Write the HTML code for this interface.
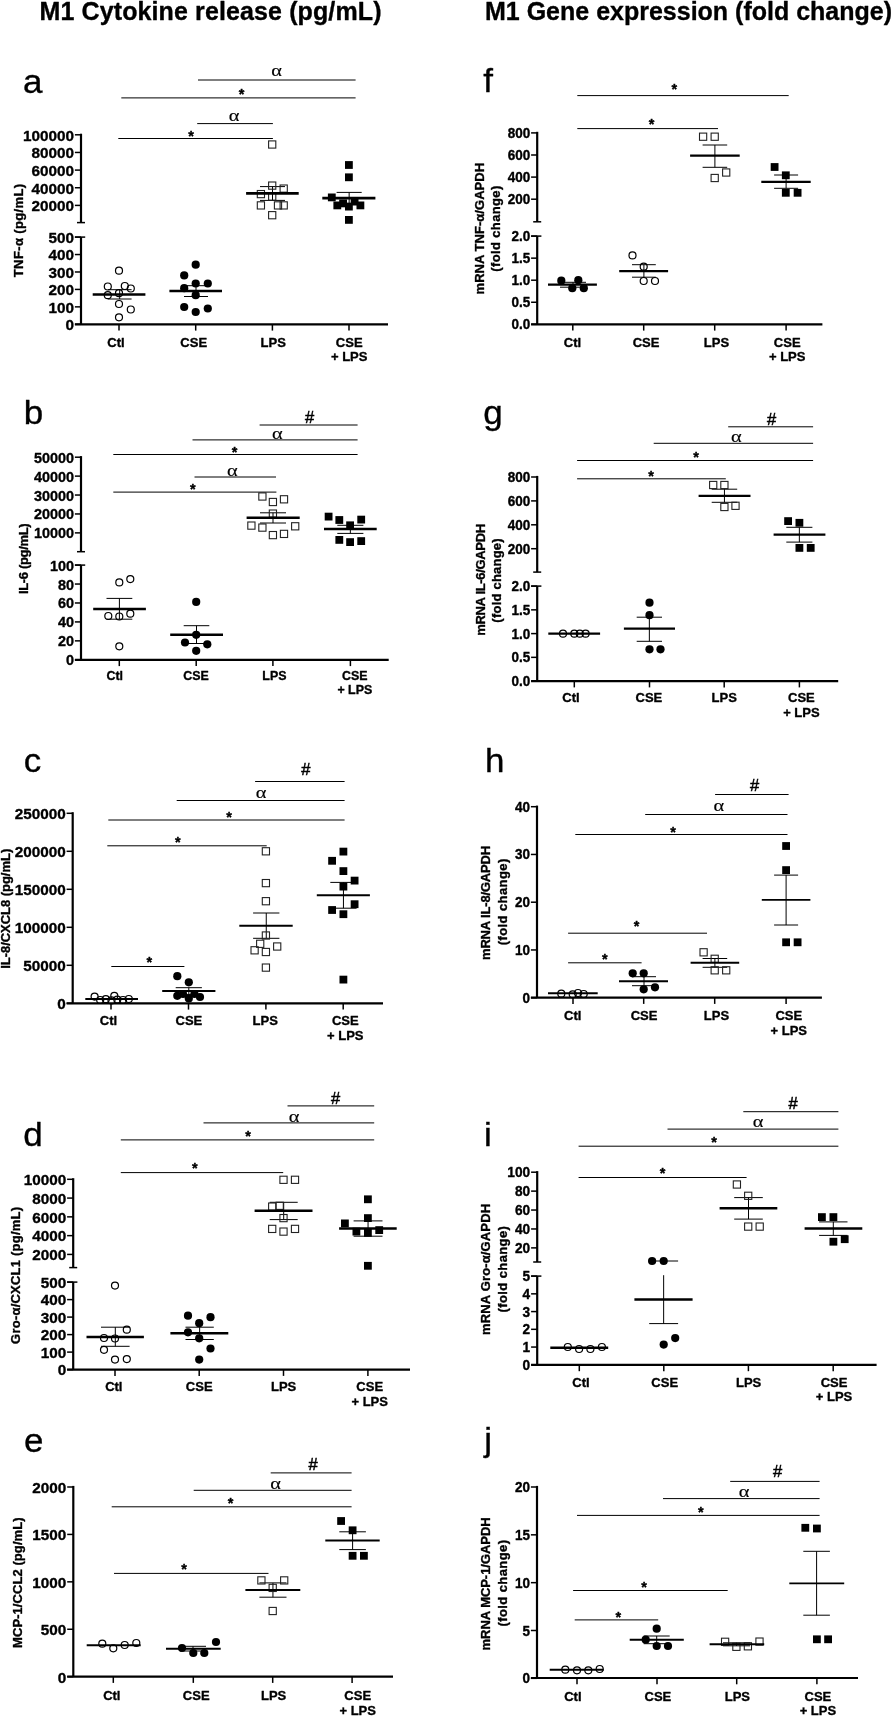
<!DOCTYPE html>
<html><head><meta charset="utf-8"><title>M1 cytokine release and gene expression</title>
<style>
html,body{margin:0;padding:0;background:#fff;}
body{width:894px;height:1716px;overflow:hidden;font-family:"Liberation Sans",sans-serif;}
svg{display:block;will-change:transform}
text{fill:#000}
text.b{stroke:#000;stroke-width:0.35px;stroke-linejoin:round}
</style></head><body>
<svg width="894" height="1716" viewBox="0 0 894 1716">
<rect width="894" height="1716" fill="#fff"/>
<text class="b" x="210.50" y="19.60" font-family="Liberation Sans" font-size="25" font-weight="bold" text-anchor="middle" textLength="342" lengthAdjust="spacing">M1 Cytokine release (pg/mL)</text>
<text class="b" x="688.50" y="19.60" font-family="Liberation Sans" font-size="25" font-weight="bold" text-anchor="middle" textLength="407" lengthAdjust="spacing">M1 Gene expression (fold change)</text>
<text transform="translate(23.00,92.80) scale(1.06,1)" x="0" y="0" font-family="Liberation Sans" font-size="33" stroke="#000" stroke-width="0.35">a</text>
<line x1="81.00" y1="133.70" x2="81.00" y2="222.60" stroke="#000" stroke-width="2.2" stroke-linecap="butt"/>
<line x1="74.90" y1="134.80" x2="81.00" y2="134.80" stroke="#000" stroke-width="1.5" stroke-linecap="butt"/>
<text class="b" transform="translate(74.00,140.63) scale(1,1.0)" x="0" y="0" font-family="Liberation Sans" font-size="15.3" font-weight="bold" text-anchor="end">100000</text>
<line x1="74.90" y1="152.45" x2="81.00" y2="152.45" stroke="#000" stroke-width="1.5" stroke-linecap="butt"/>
<text class="b" transform="translate(74.00,158.28) scale(1,1.0)" x="0" y="0" font-family="Liberation Sans" font-size="15.3" font-weight="bold" text-anchor="end">80000</text>
<line x1="74.90" y1="170.10" x2="81.00" y2="170.10" stroke="#000" stroke-width="1.5" stroke-linecap="butt"/>
<text class="b" transform="translate(74.00,175.93) scale(1,1.0)" x="0" y="0" font-family="Liberation Sans" font-size="15.3" font-weight="bold" text-anchor="end">60000</text>
<line x1="74.90" y1="187.75" x2="81.00" y2="187.75" stroke="#000" stroke-width="1.5" stroke-linecap="butt"/>
<text class="b" transform="translate(74.00,193.58) scale(1,1.0)" x="0" y="0" font-family="Liberation Sans" font-size="15.3" font-weight="bold" text-anchor="end">40000</text>
<line x1="74.90" y1="205.40" x2="81.00" y2="205.40" stroke="#000" stroke-width="1.5" stroke-linecap="butt"/>
<text class="b" transform="translate(74.00,211.23) scale(1,1.0)" x="0" y="0" font-family="Liberation Sans" font-size="15.3" font-weight="bold" text-anchor="end">20000</text>
<line x1="77.00" y1="222.60" x2="85.00" y2="222.60" stroke="#000" stroke-width="1.5" stroke-linecap="butt"/>
<line x1="81.00" y1="237.10" x2="81.00" y2="324.30" stroke="#000" stroke-width="2.2" stroke-linecap="butt"/>
<line x1="74.90" y1="237.10" x2="81.00" y2="237.10" stroke="#000" stroke-width="1.5" stroke-linecap="butt"/>
<text class="b" transform="translate(74.00,242.93) scale(1,1.0)" x="0" y="0" font-family="Liberation Sans" font-size="15.3" font-weight="bold" text-anchor="end">500</text>
<line x1="74.90" y1="254.54" x2="81.00" y2="254.54" stroke="#000" stroke-width="1.5" stroke-linecap="butt"/>
<text class="b" transform="translate(74.00,260.37) scale(1,1.0)" x="0" y="0" font-family="Liberation Sans" font-size="15.3" font-weight="bold" text-anchor="end">400</text>
<line x1="74.90" y1="271.98" x2="81.00" y2="271.98" stroke="#000" stroke-width="1.5" stroke-linecap="butt"/>
<text class="b" transform="translate(74.00,277.81) scale(1,1.0)" x="0" y="0" font-family="Liberation Sans" font-size="15.3" font-weight="bold" text-anchor="end">300</text>
<line x1="74.90" y1="289.42" x2="81.00" y2="289.42" stroke="#000" stroke-width="1.5" stroke-linecap="butt"/>
<text class="b" transform="translate(74.00,295.25) scale(1,1.0)" x="0" y="0" font-family="Liberation Sans" font-size="15.3" font-weight="bold" text-anchor="end">200</text>
<line x1="74.90" y1="306.86" x2="81.00" y2="306.86" stroke="#000" stroke-width="1.5" stroke-linecap="butt"/>
<text class="b" transform="translate(74.00,312.69) scale(1,1.0)" x="0" y="0" font-family="Liberation Sans" font-size="15.3" font-weight="bold" text-anchor="end">100</text>
<line x1="74.90" y1="324.30" x2="81.00" y2="324.30" stroke="#000" stroke-width="1.5" stroke-linecap="butt"/>
<text class="b" transform="translate(74.00,330.13) scale(1,1.0)" x="0" y="0" font-family="Liberation Sans" font-size="15.3" font-weight="bold" text-anchor="end">0</text>
<line x1="74.90" y1="237.10" x2="85.20" y2="237.10" stroke="#000" stroke-width="1.5" stroke-linecap="butt"/>
<line x1="74.90" y1="324.30" x2="388.00" y2="324.30" stroke="#000" stroke-width="2.2" stroke-linecap="butt"/>
<line x1="119.00" y1="324.30" x2="119.00" y2="330.60" stroke="#000" stroke-width="1.5" stroke-linecap="butt"/>
<text class="b" x="116.00" y="346.80" font-family="Liberation Sans" font-size="13" font-weight="bold" text-anchor="middle" >Ctl</text>
<line x1="195.70" y1="324.30" x2="195.70" y2="330.60" stroke="#000" stroke-width="1.5" stroke-linecap="butt"/>
<text class="b" x="193.70" y="346.80" font-family="Liberation Sans" font-size="13" font-weight="bold" text-anchor="middle" >CSE</text>
<line x1="272.40" y1="324.30" x2="272.40" y2="330.60" stroke="#000" stroke-width="1.5" stroke-linecap="butt"/>
<text class="b" x="273.20" y="346.80" font-family="Liberation Sans" font-size="13" font-weight="bold" text-anchor="middle" >LPS</text>
<line x1="349.00" y1="324.30" x2="349.00" y2="330.60" stroke="#000" stroke-width="1.5" stroke-linecap="butt"/>
<text class="b" x="349.20" y="346.80" font-family="Liberation Sans" font-size="13" font-weight="bold" text-anchor="middle" >CSE</text>
<text class="b" x="349.20" y="361.30" font-family="Liberation Sans" font-size="13" font-weight="bold" text-anchor="middle" >+ LPS</text>
<text class="b" transform="translate(22.70,230.50) rotate(-90)" x="0" y="0" font-family="Liberation Sans" font-size="13" font-weight="bold" text-anchor="middle" textLength="93.4" lengthAdjust="spacing">TNF-α  (pg/mL)</text>
<line x1="198.00" y1="80.00" x2="355.60" y2="80.00" stroke="#000" stroke-width="1" stroke-linecap="butt"/>
<text transform="translate(276.60,75.50) scale(1.2,1)" x="0" y="0" font-family="Liberation Serif" font-size="17" text-anchor="middle" stroke="#000" stroke-width="0.15">α</text>
<line x1="121.30" y1="97.90" x2="355.60" y2="97.90" stroke="#000" stroke-width="1" stroke-linecap="butt"/>
<text class="b" x="241.60" y="99.20" font-family="Liberation Sans" font-size="14.5" font-weight="bold" text-anchor="middle" >*</text>
<line x1="197.20" y1="123.60" x2="272.90" y2="123.60" stroke="#000" stroke-width="1" stroke-linecap="butt"/>
<text transform="translate(234.00,120.80) scale(1.2,1)" x="0" y="0" font-family="Liberation Serif" font-size="17" text-anchor="middle" stroke="#000" stroke-width="0.15">α</text>
<line x1="118.30" y1="138.50" x2="272.90" y2="138.50" stroke="#000" stroke-width="1" stroke-linecap="butt"/>
<text class="b" x="191.20" y="141.00" font-family="Liberation Sans" font-size="14.5" font-weight="bold" text-anchor="middle" >*</text>
<line x1="107.80" y1="289.70" x2="131.60" y2="289.70" stroke="#000" stroke-width="1" stroke-linecap="butt"/>
<line x1="107.80" y1="299.00" x2="131.60" y2="299.00" stroke="#000" stroke-width="1" stroke-linecap="butt"/>
<line x1="119.70" y1="289.70" x2="119.70" y2="299.00" stroke="#000" stroke-width="1" stroke-linecap="butt"/>
<circle cx="119.00" cy="270.70" r="3.5" fill="#fff" fill-opacity="0" stroke="#000" stroke-width="1.2"/>
<circle cx="107.80" cy="286.50" r="3.5" fill="#fff" fill-opacity="0" stroke="#000" stroke-width="1.2"/>
<circle cx="124.80" cy="286.00" r="3.5" fill="#fff" fill-opacity="0" stroke="#000" stroke-width="1.2"/>
<circle cx="130.80" cy="288.50" r="3.5" fill="#fff" fill-opacity="0" stroke="#000" stroke-width="1.2"/>
<circle cx="107.80" cy="295.20" r="3.5" fill="#fff" fill-opacity="0" stroke="#000" stroke-width="1.2"/>
<circle cx="119.00" cy="293.20" r="3.5" fill="#fff" fill-opacity="0" stroke="#000" stroke-width="1.2"/>
<circle cx="119.00" cy="304.00" r="3.5" fill="#fff" fill-opacity="0" stroke="#000" stroke-width="1.2"/>
<circle cx="130.80" cy="309.50" r="3.5" fill="#fff" fill-opacity="0" stroke="#000" stroke-width="1.2"/>
<circle cx="119.00" cy="317.30" r="3.5" fill="#fff" fill-opacity="0" stroke="#000" stroke-width="1.2"/>
<line x1="92.70" y1="294.50" x2="145.40" y2="294.50" stroke="#000" stroke-width="2.6" stroke-linecap="butt"/>
<line x1="184.00" y1="285.70" x2="208.00" y2="285.70" stroke="#000" stroke-width="1" stroke-linecap="butt"/>
<line x1="184.00" y1="296.50" x2="208.00" y2="296.50" stroke="#000" stroke-width="1" stroke-linecap="butt"/>
<line x1="196.00" y1="285.70" x2="196.00" y2="296.50" stroke="#000" stroke-width="1" stroke-linecap="butt"/>
<circle cx="195.70" cy="264.70" r="4.1" fill="#000"/>
<circle cx="184.20" cy="275.40" r="4.1" fill="#000"/>
<circle cx="195.70" cy="283.50" r="4.1" fill="#000"/>
<circle cx="207.80" cy="283.50" r="4.1" fill="#000"/>
<circle cx="184.20" cy="288.20" r="4.1" fill="#000"/>
<circle cx="195.70" cy="295.20" r="4.1" fill="#000"/>
<circle cx="184.20" cy="307.00" r="4.1" fill="#000"/>
<circle cx="207.80" cy="308.50" r="4.1" fill="#000"/>
<circle cx="195.70" cy="312.00" r="4.1" fill="#000"/>
<line x1="169.40" y1="291.00" x2="222.00" y2="291.00" stroke="#000" stroke-width="2.6" stroke-linecap="butt"/>
<line x1="260.00" y1="186.60" x2="285.00" y2="186.60" stroke="#000" stroke-width="1" stroke-linecap="butt"/>
<line x1="260.00" y1="200.40" x2="285.00" y2="200.40" stroke="#000" stroke-width="1" stroke-linecap="butt"/>
<line x1="272.50" y1="186.60" x2="272.50" y2="200.40" stroke="#000" stroke-width="1" stroke-linecap="butt"/>
<rect x="268.60" y="140.90" width="7.2" height="7.2" fill="none" stroke="#222" stroke-width="1.1"/>
<rect x="268.60" y="182.00" width="7.2" height="7.2" fill="none" stroke="#222" stroke-width="1.1"/>
<rect x="280.10" y="185.00" width="7.2" height="7.2" fill="none" stroke="#222" stroke-width="1.1"/>
<rect x="257.30" y="190.50" width="7.2" height="7.2" fill="none" stroke="#222" stroke-width="1.1"/>
<rect x="268.60" y="193.00" width="7.2" height="7.2" fill="none" stroke="#222" stroke-width="1.1"/>
<rect x="257.30" y="201.80" width="7.2" height="7.2" fill="none" stroke="#222" stroke-width="1.1"/>
<rect x="274.40" y="201.80" width="7.2" height="7.2" fill="none" stroke="#222" stroke-width="1.1"/>
<rect x="280.10" y="201.80" width="7.2" height="7.2" fill="none" stroke="#222" stroke-width="1.1"/>
<rect x="268.60" y="211.60" width="7.2" height="7.2" fill="none" stroke="#222" stroke-width="1.1"/>
<line x1="246.10" y1="193.40" x2="298.70" y2="193.40" stroke="#000" stroke-width="2.6" stroke-linecap="butt"/>
<line x1="336.60" y1="192.40" x2="361.70" y2="192.40" stroke="#000" stroke-width="1" stroke-linecap="butt"/>
<line x1="336.60" y1="203.40" x2="361.70" y2="203.40" stroke="#000" stroke-width="1" stroke-linecap="butt"/>
<line x1="349.15" y1="192.40" x2="349.15" y2="203.40" stroke="#000" stroke-width="1" stroke-linecap="butt"/>
<rect x="345.00" y="161.10" width="7.8" height="7.8" fill="#000"/>
<rect x="345.00" y="173.40" width="7.8" height="7.8" fill="#000"/>
<rect x="327.90" y="193.50" width="7.8" height="7.8" fill="#000"/>
<rect x="350.70" y="197.70" width="7.8" height="7.8" fill="#000"/>
<rect x="333.40" y="201.50" width="7.8" height="7.8" fill="#000"/>
<rect x="339.20" y="199.50" width="7.8" height="7.8" fill="#000"/>
<rect x="345.00" y="202.70" width="7.8" height="7.8" fill="#000"/>
<rect x="356.50" y="201.50" width="7.8" height="7.8" fill="#000"/>
<rect x="345.00" y="216.00" width="7.8" height="7.8" fill="#000"/>
<line x1="322.30" y1="198.10" x2="375.40" y2="198.10" stroke="#000" stroke-width="2.6" stroke-linecap="butt"/>
<text transform="translate(23.70,423.60) scale(1.06,1)" x="0" y="0" font-family="Liberation Sans" font-size="33" stroke="#000" stroke-width="0.35">b</text>
<line x1="81.00" y1="456.10" x2="81.00" y2="551.70" stroke="#000" stroke-width="2.2" stroke-linecap="butt"/>
<line x1="74.90" y1="457.20" x2="81.00" y2="457.20" stroke="#000" stroke-width="1.5" stroke-linecap="butt"/>
<text class="b" transform="translate(74.00,462.71) scale(1,1.0)" x="0" y="0" font-family="Liberation Sans" font-size="14.4" font-weight="bold" text-anchor="end">50000</text>
<line x1="74.90" y1="476.12" x2="81.00" y2="476.12" stroke="#000" stroke-width="1.5" stroke-linecap="butt"/>
<text class="b" transform="translate(74.00,481.63) scale(1,1.0)" x="0" y="0" font-family="Liberation Sans" font-size="14.4" font-weight="bold" text-anchor="end">40000</text>
<line x1="74.90" y1="495.04" x2="81.00" y2="495.04" stroke="#000" stroke-width="1.5" stroke-linecap="butt"/>
<text class="b" transform="translate(74.00,500.55) scale(1,1.0)" x="0" y="0" font-family="Liberation Sans" font-size="14.4" font-weight="bold" text-anchor="end">30000</text>
<line x1="74.90" y1="513.96" x2="81.00" y2="513.96" stroke="#000" stroke-width="1.5" stroke-linecap="butt"/>
<text class="b" transform="translate(74.00,519.47) scale(1,1.0)" x="0" y="0" font-family="Liberation Sans" font-size="14.4" font-weight="bold" text-anchor="end">20000</text>
<line x1="74.90" y1="532.88" x2="81.00" y2="532.88" stroke="#000" stroke-width="1.5" stroke-linecap="butt"/>
<text class="b" transform="translate(74.00,538.39) scale(1,1.0)" x="0" y="0" font-family="Liberation Sans" font-size="14.4" font-weight="bold" text-anchor="end">10000</text>
<line x1="77.00" y1="551.70" x2="85.00" y2="551.70" stroke="#000" stroke-width="1.5" stroke-linecap="butt"/>
<line x1="81.00" y1="565.10" x2="81.00" y2="659.80" stroke="#000" stroke-width="2.2" stroke-linecap="butt"/>
<line x1="74.90" y1="565.10" x2="81.00" y2="565.10" stroke="#000" stroke-width="1.5" stroke-linecap="butt"/>
<text class="b" transform="translate(74.00,570.61) scale(1,1.0)" x="0" y="0" font-family="Liberation Sans" font-size="14.4" font-weight="bold" text-anchor="end">100</text>
<line x1="74.90" y1="584.04" x2="81.00" y2="584.04" stroke="#000" stroke-width="1.5" stroke-linecap="butt"/>
<text class="b" transform="translate(74.00,589.55) scale(1,1.0)" x="0" y="0" font-family="Liberation Sans" font-size="14.4" font-weight="bold" text-anchor="end">80</text>
<line x1="74.90" y1="602.98" x2="81.00" y2="602.98" stroke="#000" stroke-width="1.5" stroke-linecap="butt"/>
<text class="b" transform="translate(74.00,608.49) scale(1,1.0)" x="0" y="0" font-family="Liberation Sans" font-size="14.4" font-weight="bold" text-anchor="end">60</text>
<line x1="74.90" y1="621.92" x2="81.00" y2="621.92" stroke="#000" stroke-width="1.5" stroke-linecap="butt"/>
<text class="b" transform="translate(74.00,627.43) scale(1,1.0)" x="0" y="0" font-family="Liberation Sans" font-size="14.4" font-weight="bold" text-anchor="end">40</text>
<line x1="74.90" y1="640.86" x2="81.00" y2="640.86" stroke="#000" stroke-width="1.5" stroke-linecap="butt"/>
<text class="b" transform="translate(74.00,646.37) scale(1,1.0)" x="0" y="0" font-family="Liberation Sans" font-size="14.4" font-weight="bold" text-anchor="end">20</text>
<line x1="74.90" y1="659.80" x2="81.00" y2="659.80" stroke="#000" stroke-width="1.5" stroke-linecap="butt"/>
<text class="b" transform="translate(74.00,665.31) scale(1,1.0)" x="0" y="0" font-family="Liberation Sans" font-size="14.4" font-weight="bold" text-anchor="end">0</text>
<line x1="74.90" y1="565.10" x2="85.20" y2="565.10" stroke="#000" stroke-width="1.5" stroke-linecap="butt"/>
<line x1="74.90" y1="659.80" x2="388.70" y2="659.80" stroke="#000" stroke-width="2.2" stroke-linecap="butt"/>
<line x1="119.30" y1="659.80" x2="119.30" y2="666.10" stroke="#000" stroke-width="1.5" stroke-linecap="butt"/>
<text class="b" x="114.80" y="679.50" font-family="Liberation Sans" font-size="12.4" font-weight="bold" text-anchor="middle" >Ctl</text>
<line x1="196.20" y1="659.80" x2="196.20" y2="666.10" stroke="#000" stroke-width="1.5" stroke-linecap="butt"/>
<text class="b" x="196.00" y="679.50" font-family="Liberation Sans" font-size="12.4" font-weight="bold" text-anchor="middle" >CSE</text>
<line x1="272.90" y1="659.80" x2="272.90" y2="666.10" stroke="#000" stroke-width="1.5" stroke-linecap="butt"/>
<text class="b" x="274.40" y="679.50" font-family="Liberation Sans" font-size="12.4" font-weight="bold" text-anchor="middle" >LPS</text>
<line x1="350.40" y1="659.80" x2="350.40" y2="666.10" stroke="#000" stroke-width="1.5" stroke-linecap="butt"/>
<text class="b" x="354.80" y="679.50" font-family="Liberation Sans" font-size="12.4" font-weight="bold" text-anchor="middle" >CSE</text>
<text class="b" x="354.80" y="694.00" font-family="Liberation Sans" font-size="12.4" font-weight="bold" text-anchor="middle" >+ LPS</text>
<text class="b" transform="translate(28.30,558.70) rotate(-90)" x="0" y="0" font-family="Liberation Sans" font-size="13" font-weight="bold" text-anchor="middle" textLength="70.8" lengthAdjust="spacing">IL-6 (pg/mL)</text>
<line x1="259.60" y1="425.00" x2="357.60" y2="425.00" stroke="#000" stroke-width="1" stroke-linecap="butt"/>
<text x="309.60" y="423.00" font-family="Liberation Sans" font-size="16.5" font-weight="normal" text-anchor="middle" stroke="#000" stroke-width="0.5">#</text>
<line x1="192.50" y1="439.90" x2="357.60" y2="439.90" stroke="#000" stroke-width="1" stroke-linecap="butt"/>
<text transform="translate(277.30,438.70) scale(1.2,1)" x="0" y="0" font-family="Liberation Serif" font-size="17" text-anchor="middle" stroke="#000" stroke-width="0.15">α</text>
<line x1="113.30" y1="454.50" x2="357.60" y2="454.50" stroke="#000" stroke-width="1" stroke-linecap="butt"/>
<text class="b" x="234.70" y="456.80" font-family="Liberation Sans" font-size="14.5" font-weight="bold" text-anchor="middle" >*</text>
<line x1="194.50" y1="477.00" x2="276.00" y2="477.00" stroke="#000" stroke-width="1" stroke-linecap="butt"/>
<text transform="translate(232.40,476.40) scale(1.2,1)" x="0" y="0" font-family="Liberation Serif" font-size="17" text-anchor="middle" stroke="#000" stroke-width="0.15">α</text>
<line x1="113.30" y1="492.10" x2="276.40" y2="492.10" stroke="#000" stroke-width="1" stroke-linecap="butt"/>
<text class="b" x="192.80" y="494.40" font-family="Liberation Sans" font-size="14.5" font-weight="bold" text-anchor="middle" >*</text>
<line x1="106.50" y1="598.40" x2="132.30" y2="598.40" stroke="#000" stroke-width="1" stroke-linecap="butt"/>
<line x1="106.50" y1="619.20" x2="132.30" y2="619.20" stroke="#000" stroke-width="1" stroke-linecap="butt"/>
<line x1="119.40" y1="598.40" x2="119.40" y2="619.20" stroke="#000" stroke-width="1" stroke-linecap="butt"/>
<circle cx="119.30" cy="582.40" r="3.5" fill="#fff" fill-opacity="0" stroke="#000" stroke-width="1.2"/>
<circle cx="130.30" cy="579.10" r="3.5" fill="#fff" fill-opacity="0" stroke="#000" stroke-width="1.2"/>
<circle cx="108.30" cy="616.00" r="3.5" fill="#fff" fill-opacity="0" stroke="#000" stroke-width="1.2"/>
<circle cx="119.30" cy="616.50" r="3.5" fill="#fff" fill-opacity="0" stroke="#000" stroke-width="1.2"/>
<circle cx="130.30" cy="613.70" r="3.5" fill="#fff" fill-opacity="0" stroke="#000" stroke-width="1.2"/>
<circle cx="119.30" cy="646.30" r="3.5" fill="#fff" fill-opacity="0" stroke="#000" stroke-width="1.2"/>
<line x1="93.20" y1="609.00" x2="145.90" y2="609.00" stroke="#000" stroke-width="2.5" stroke-linecap="butt"/>
<line x1="183.70" y1="625.70" x2="209.30" y2="625.70" stroke="#000" stroke-width="1" stroke-linecap="butt"/>
<line x1="183.70" y1="643.50" x2="209.30" y2="643.50" stroke="#000" stroke-width="1" stroke-linecap="butt"/>
<line x1="196.50" y1="625.70" x2="196.50" y2="643.50" stroke="#000" stroke-width="1" stroke-linecap="butt"/>
<circle cx="196.20" cy="601.90" r="4.1" fill="#000"/>
<circle cx="196.20" cy="634.80" r="4.1" fill="#000"/>
<circle cx="185.00" cy="642.50" r="4.1" fill="#000"/>
<circle cx="207.30" cy="644.30" r="4.1" fill="#000"/>
<circle cx="196.20" cy="650.80" r="4.1" fill="#000"/>
<line x1="170.20" y1="634.80" x2="223.00" y2="634.80" stroke="#000" stroke-width="2.5" stroke-linecap="butt"/>
<line x1="260.00" y1="512.80" x2="286.00" y2="512.80" stroke="#000" stroke-width="1" stroke-linecap="butt"/>
<line x1="260.00" y1="523.00" x2="286.00" y2="523.00" stroke="#000" stroke-width="1" stroke-linecap="butt"/>
<line x1="273.00" y1="512.80" x2="273.00" y2="523.00" stroke="#000" stroke-width="1" stroke-linecap="butt"/>
<rect x="258.80" y="492.90" width="7.2" height="7.2" fill="none" stroke="#222" stroke-width="1.1"/>
<rect x="269.30" y="498.40" width="7.2" height="7.2" fill="none" stroke="#222" stroke-width="1.1"/>
<rect x="280.40" y="495.70" width="7.2" height="7.2" fill="none" stroke="#222" stroke-width="1.1"/>
<rect x="269.30" y="510.00" width="7.2" height="7.2" fill="none" stroke="#222" stroke-width="1.1"/>
<rect x="247.80" y="522.00" width="7.2" height="7.2" fill="none" stroke="#222" stroke-width="1.1"/>
<rect x="258.80" y="524.00" width="7.2" height="7.2" fill="none" stroke="#222" stroke-width="1.1"/>
<rect x="291.60" y="522.70" width="7.2" height="7.2" fill="none" stroke="#222" stroke-width="1.1"/>
<rect x="269.30" y="531.50" width="7.2" height="7.2" fill="none" stroke="#222" stroke-width="1.1"/>
<rect x="280.40" y="530.30" width="7.2" height="7.2" fill="none" stroke="#222" stroke-width="1.1"/>
<line x1="246.60" y1="517.80" x2="299.70" y2="517.80" stroke="#000" stroke-width="2.5" stroke-linecap="butt"/>
<line x1="337.30" y1="525.30" x2="363.40" y2="525.30" stroke="#000" stroke-width="1" stroke-linecap="butt"/>
<line x1="337.30" y1="533.40" x2="363.40" y2="533.40" stroke="#000" stroke-width="1" stroke-linecap="butt"/>
<line x1="350.35" y1="525.30" x2="350.35" y2="533.40" stroke="#000" stroke-width="1" stroke-linecap="butt"/>
<rect x="324.70" y="512.70" width="7.8" height="7.8" fill="#000"/>
<rect x="335.40" y="516.10" width="7.8" height="7.8" fill="#000"/>
<rect x="346.20" y="521.40" width="7.8" height="7.8" fill="#000"/>
<rect x="357.30" y="515.70" width="7.8" height="7.8" fill="#000"/>
<rect x="335.40" y="536.00" width="7.8" height="7.8" fill="#000"/>
<rect x="346.20" y="538.20" width="7.8" height="7.8" fill="#000"/>
<rect x="357.30" y="537.20" width="7.8" height="7.8" fill="#000"/>
<line x1="324.00" y1="529.10" x2="376.70" y2="529.10" stroke="#000" stroke-width="2.5" stroke-linecap="butt"/>
<text transform="translate(23.70,772.30) scale(1.06,1)" x="0" y="0" font-family="Liberation Sans" font-size="33" stroke="#000" stroke-width="0.35">c</text>
<line x1="72.70" y1="812.20" x2="72.70" y2="1003.30" stroke="#000" stroke-width="2.2" stroke-linecap="butt"/>
<line x1="66.60" y1="813.30" x2="72.70" y2="813.30" stroke="#000" stroke-width="1.5" stroke-linecap="butt"/>
<text class="b" transform="translate(65.70,819.13) scale(1,1.0)" x="0" y="0" font-family="Liberation Sans" font-size="15.3" font-weight="bold" text-anchor="end">250000</text>
<line x1="66.60" y1="851.30" x2="72.70" y2="851.30" stroke="#000" stroke-width="1.5" stroke-linecap="butt"/>
<text class="b" transform="translate(65.70,857.13) scale(1,1.0)" x="0" y="0" font-family="Liberation Sans" font-size="15.3" font-weight="bold" text-anchor="end">200000</text>
<line x1="66.60" y1="889.30" x2="72.70" y2="889.30" stroke="#000" stroke-width="1.5" stroke-linecap="butt"/>
<text class="b" transform="translate(65.70,895.13) scale(1,1.0)" x="0" y="0" font-family="Liberation Sans" font-size="15.3" font-weight="bold" text-anchor="end">150000</text>
<line x1="66.60" y1="927.30" x2="72.70" y2="927.30" stroke="#000" stroke-width="1.5" stroke-linecap="butt"/>
<text class="b" transform="translate(65.70,933.13) scale(1,1.0)" x="0" y="0" font-family="Liberation Sans" font-size="15.3" font-weight="bold" text-anchor="end">100000</text>
<line x1="66.60" y1="965.30" x2="72.70" y2="965.30" stroke="#000" stroke-width="1.5" stroke-linecap="butt"/>
<text class="b" transform="translate(65.70,971.13) scale(1,1.0)" x="0" y="0" font-family="Liberation Sans" font-size="15.3" font-weight="bold" text-anchor="end">50000</text>
<line x1="66.60" y1="1003.30" x2="72.70" y2="1003.30" stroke="#000" stroke-width="1.5" stroke-linecap="butt"/>
<text class="b" transform="translate(65.70,1009.13) scale(1,1.0)" x="0" y="0" font-family="Liberation Sans" font-size="15.3" font-weight="bold" text-anchor="end">0</text>
<line x1="66.60" y1="1003.30" x2="383.00" y2="1003.30" stroke="#000" stroke-width="2.2" stroke-linecap="butt"/>
<line x1="111.00" y1="1003.30" x2="111.00" y2="1009.60" stroke="#000" stroke-width="1.5" stroke-linecap="butt"/>
<text class="b" x="108.50" y="1025.40" font-family="Liberation Sans" font-size="13" font-weight="bold" text-anchor="middle" >Ctl</text>
<line x1="188.50" y1="1003.30" x2="188.50" y2="1009.60" stroke="#000" stroke-width="1.5" stroke-linecap="butt"/>
<text class="b" x="188.90" y="1025.40" font-family="Liberation Sans" font-size="13" font-weight="bold" text-anchor="middle" >CSE</text>
<line x1="265.90" y1="1003.30" x2="265.90" y2="1009.60" stroke="#000" stroke-width="1.5" stroke-linecap="butt"/>
<text class="b" x="265.20" y="1025.40" font-family="Liberation Sans" font-size="13" font-weight="bold" text-anchor="middle" >LPS</text>
<line x1="343.20" y1="1003.30" x2="343.20" y2="1009.60" stroke="#000" stroke-width="1.5" stroke-linecap="butt"/>
<text class="b" x="345.30" y="1025.40" font-family="Liberation Sans" font-size="13" font-weight="bold" text-anchor="middle" >CSE</text>
<text class="b" x="345.30" y="1039.90" font-family="Liberation Sans" font-size="13" font-weight="bold" text-anchor="middle" >+ LPS</text>
<text class="b" transform="translate(9.60,908.80) rotate(-90)" x="0" y="0" font-family="Liberation Sans" font-size="13" font-weight="bold" text-anchor="middle" textLength="120.1" lengthAdjust="spacing">IL-8/CXCL8 (pg/mL)</text>
<line x1="255.10" y1="781.50" x2="344.60" y2="781.50" stroke="#000" stroke-width="1" stroke-linecap="butt"/>
<text x="305.80" y="775.10" font-family="Liberation Sans" font-size="16.5" font-weight="normal" text-anchor="middle" stroke="#000" stroke-width="0.5">#</text>
<line x1="176.70" y1="800.50" x2="344.60" y2="800.50" stroke="#000" stroke-width="1" stroke-linecap="butt"/>
<text transform="translate(261.00,798.00) scale(1.2,1)" x="0" y="0" font-family="Liberation Serif" font-size="17" text-anchor="middle" stroke="#000" stroke-width="0.15">α</text>
<line x1="108.30" y1="820.00" x2="344.60" y2="820.00" stroke="#000" stroke-width="1" stroke-linecap="butt"/>
<text class="b" x="229.00" y="821.50" font-family="Liberation Sans" font-size="14.5" font-weight="bold" text-anchor="middle" >*</text>
<line x1="107.30" y1="845.80" x2="266.70" y2="845.80" stroke="#000" stroke-width="1" stroke-linecap="butt"/>
<text class="b" x="177.80" y="847.30" font-family="Liberation Sans" font-size="14.5" font-weight="bold" text-anchor="middle" >*</text>
<line x1="111.30" y1="966.50" x2="184.40" y2="966.50" stroke="#000" stroke-width="1" stroke-linecap="butt"/>
<text class="b" x="149.30" y="966.50" font-family="Liberation Sans" font-size="14.5" font-weight="bold" text-anchor="middle" >*</text>
<circle cx="94.60" cy="996.60" r="3.5" fill="#fff" fill-opacity="0" stroke="#000" stroke-width="1.2"/>
<circle cx="100.20" cy="1000.00" r="3.5" fill="#fff" fill-opacity="0" stroke="#000" stroke-width="1.2"/>
<circle cx="105.80" cy="999.20" r="3.5" fill="#fff" fill-opacity="0" stroke="#000" stroke-width="1.2"/>
<circle cx="111.50" cy="1000.40" r="3.5" fill="#fff" fill-opacity="0" stroke="#000" stroke-width="1.2"/>
<circle cx="114.30" cy="995.80" r="3.5" fill="#fff" fill-opacity="0" stroke="#000" stroke-width="1.2"/>
<circle cx="117.30" cy="999.60" r="3.5" fill="#fff" fill-opacity="0" stroke="#000" stroke-width="1.2"/>
<circle cx="123.00" cy="1000.00" r="3.5" fill="#fff" fill-opacity="0" stroke="#000" stroke-width="1.2"/>
<circle cx="128.80" cy="999.00" r="3.5" fill="#fff" fill-opacity="0" stroke="#000" stroke-width="1.2"/>
<line x1="85.30" y1="999.00" x2="138.00" y2="999.00" stroke="#000" stroke-width="2.0" stroke-linecap="butt"/>
<line x1="175.70" y1="987.70" x2="201.90" y2="987.70" stroke="#000" stroke-width="1" stroke-linecap="butt"/>
<line x1="175.70" y1="994.40" x2="201.90" y2="994.40" stroke="#000" stroke-width="1" stroke-linecap="butt"/>
<line x1="188.80" y1="987.70" x2="188.80" y2="994.40" stroke="#000" stroke-width="1" stroke-linecap="butt"/>
<circle cx="177.30" cy="976.20" r="4.1" fill="#000"/>
<circle cx="188.80" cy="982.30" r="4.1" fill="#000"/>
<circle cx="177.30" cy="995.80" r="4.1" fill="#000"/>
<circle cx="183.00" cy="994.00" r="4.1" fill="#000"/>
<circle cx="188.80" cy="998.40" r="4.1" fill="#000"/>
<circle cx="194.40" cy="994.00" r="4.1" fill="#000"/>
<circle cx="200.00" cy="997.00" r="4.1" fill="#000"/>
<line x1="162.20" y1="990.90" x2="215.40" y2="990.90" stroke="#000" stroke-width="2.0" stroke-linecap="butt"/>
<line x1="253.10" y1="913.00" x2="279.40" y2="913.00" stroke="#000" stroke-width="1" stroke-linecap="butt"/>
<line x1="253.10" y1="938.30" x2="279.40" y2="938.30" stroke="#000" stroke-width="1" stroke-linecap="butt"/>
<line x1="266.25" y1="913.00" x2="266.25" y2="938.30" stroke="#000" stroke-width="1" stroke-linecap="butt"/>
<rect x="262.30" y="847.70" width="7.2" height="7.2" fill="none" stroke="#222" stroke-width="1.1"/>
<rect x="262.30" y="879.50" width="7.2" height="7.2" fill="none" stroke="#222" stroke-width="1.1"/>
<rect x="262.30" y="897.60" width="7.2" height="7.2" fill="none" stroke="#222" stroke-width="1.1"/>
<rect x="262.30" y="931.90" width="7.2" height="7.2" fill="none" stroke="#222" stroke-width="1.1"/>
<rect x="256.60" y="940.20" width="7.2" height="7.2" fill="none" stroke="#222" stroke-width="1.1"/>
<rect x="251.00" y="946.70" width="7.2" height="7.2" fill="none" stroke="#222" stroke-width="1.1"/>
<rect x="273.60" y="942.90" width="7.2" height="7.2" fill="none" stroke="#222" stroke-width="1.1"/>
<rect x="262.30" y="948.40" width="7.2" height="7.2" fill="none" stroke="#222" stroke-width="1.1"/>
<rect x="262.30" y="964.00" width="7.2" height="7.2" fill="none" stroke="#222" stroke-width="1.1"/>
<line x1="239.30" y1="925.70" x2="292.70" y2="925.70" stroke="#000" stroke-width="2.0" stroke-linecap="butt"/>
<line x1="330.30" y1="882.40" x2="356.60" y2="882.40" stroke="#000" stroke-width="1" stroke-linecap="butt"/>
<line x1="330.30" y1="908.20" x2="356.60" y2="908.20" stroke="#000" stroke-width="1" stroke-linecap="butt"/>
<line x1="343.45" y1="882.40" x2="343.45" y2="908.20" stroke="#000" stroke-width="1" stroke-linecap="butt"/>
<rect x="339.50" y="847.70" width="7.8" height="7.8" fill="#000"/>
<rect x="328.20" y="856.90" width="7.8" height="7.8" fill="#000"/>
<rect x="339.50" y="867.20" width="7.8" height="7.8" fill="#000"/>
<rect x="350.70" y="876.70" width="7.8" height="7.8" fill="#000"/>
<rect x="339.50" y="882.70" width="7.8" height="7.8" fill="#000"/>
<rect x="350.70" y="900.30" width="7.8" height="7.8" fill="#000"/>
<rect x="328.20" y="906.10" width="7.8" height="7.8" fill="#000"/>
<rect x="339.50" y="910.30" width="7.8" height="7.8" fill="#000"/>
<rect x="339.50" y="975.70" width="7.8" height="7.8" fill="#000"/>
<line x1="316.80" y1="895.20" x2="369.90" y2="895.20" stroke="#000" stroke-width="2.0" stroke-linecap="butt"/>
<text transform="translate(23.30,1146.30) scale(1.06,1)" x="0" y="0" font-family="Liberation Sans" font-size="33" stroke="#000" stroke-width="0.35">d</text>
<line x1="73.20" y1="1178.20" x2="73.20" y2="1267.60" stroke="#000" stroke-width="2.2" stroke-linecap="butt"/>
<line x1="67.10" y1="1179.30" x2="73.20" y2="1179.30" stroke="#000" stroke-width="1.5" stroke-linecap="butt"/>
<text class="b" transform="translate(66.20,1185.13) scale(1,1.0)" x="0" y="0" font-family="Liberation Sans" font-size="15.3" font-weight="bold" text-anchor="end">10000</text>
<line x1="67.10" y1="1198.08" x2="73.20" y2="1198.08" stroke="#000" stroke-width="1.5" stroke-linecap="butt"/>
<text class="b" transform="translate(66.20,1203.91) scale(1,1.0)" x="0" y="0" font-family="Liberation Sans" font-size="15.3" font-weight="bold" text-anchor="end">8000</text>
<line x1="67.10" y1="1216.86" x2="73.20" y2="1216.86" stroke="#000" stroke-width="1.5" stroke-linecap="butt"/>
<text class="b" transform="translate(66.20,1222.69) scale(1,1.0)" x="0" y="0" font-family="Liberation Sans" font-size="15.3" font-weight="bold" text-anchor="end">6000</text>
<line x1="67.10" y1="1235.64" x2="73.20" y2="1235.64" stroke="#000" stroke-width="1.5" stroke-linecap="butt"/>
<text class="b" transform="translate(66.20,1241.47) scale(1,1.0)" x="0" y="0" font-family="Liberation Sans" font-size="15.3" font-weight="bold" text-anchor="end">4000</text>
<line x1="67.10" y1="1254.42" x2="73.20" y2="1254.42" stroke="#000" stroke-width="1.5" stroke-linecap="butt"/>
<text class="b" transform="translate(66.20,1260.25) scale(1,1.0)" x="0" y="0" font-family="Liberation Sans" font-size="15.3" font-weight="bold" text-anchor="end">2000</text>
<line x1="69.20" y1="1267.60" x2="77.20" y2="1267.60" stroke="#000" stroke-width="1.5" stroke-linecap="butt"/>
<line x1="73.20" y1="1282.10" x2="73.20" y2="1369.60" stroke="#000" stroke-width="2.2" stroke-linecap="butt"/>
<line x1="67.10" y1="1282.10" x2="73.20" y2="1282.10" stroke="#000" stroke-width="1.5" stroke-linecap="butt"/>
<text class="b" transform="translate(66.20,1287.93) scale(1,1.0)" x="0" y="0" font-family="Liberation Sans" font-size="15.3" font-weight="bold" text-anchor="end">500</text>
<line x1="67.10" y1="1299.60" x2="73.20" y2="1299.60" stroke="#000" stroke-width="1.5" stroke-linecap="butt"/>
<text class="b" transform="translate(66.20,1305.43) scale(1,1.0)" x="0" y="0" font-family="Liberation Sans" font-size="15.3" font-weight="bold" text-anchor="end">400</text>
<line x1="67.10" y1="1317.10" x2="73.20" y2="1317.10" stroke="#000" stroke-width="1.5" stroke-linecap="butt"/>
<text class="b" transform="translate(66.20,1322.93) scale(1,1.0)" x="0" y="0" font-family="Liberation Sans" font-size="15.3" font-weight="bold" text-anchor="end">300</text>
<line x1="67.10" y1="1334.60" x2="73.20" y2="1334.60" stroke="#000" stroke-width="1.5" stroke-linecap="butt"/>
<text class="b" transform="translate(66.20,1340.43) scale(1,1.0)" x="0" y="0" font-family="Liberation Sans" font-size="15.3" font-weight="bold" text-anchor="end">200</text>
<line x1="67.10" y1="1352.10" x2="73.20" y2="1352.10" stroke="#000" stroke-width="1.5" stroke-linecap="butt"/>
<text class="b" transform="translate(66.20,1357.93) scale(1,1.0)" x="0" y="0" font-family="Liberation Sans" font-size="15.3" font-weight="bold" text-anchor="end">100</text>
<line x1="67.10" y1="1369.60" x2="73.20" y2="1369.60" stroke="#000" stroke-width="1.5" stroke-linecap="butt"/>
<text class="b" transform="translate(66.20,1375.43) scale(1,1.0)" x="0" y="0" font-family="Liberation Sans" font-size="15.3" font-weight="bold" text-anchor="end">0</text>
<line x1="67.10" y1="1282.10" x2="77.40" y2="1282.10" stroke="#000" stroke-width="1.5" stroke-linecap="butt"/>
<line x1="67.10" y1="1369.60" x2="410.00" y2="1369.60" stroke="#000" stroke-width="2.2" stroke-linecap="butt"/>
<line x1="115.00" y1="1369.60" x2="115.00" y2="1375.90" stroke="#000" stroke-width="1.5" stroke-linecap="butt"/>
<text class="b" x="113.80" y="1391.10" font-family="Liberation Sans" font-size="13" font-weight="bold" text-anchor="middle" >Ctl</text>
<line x1="199.20" y1="1369.60" x2="199.20" y2="1375.90" stroke="#000" stroke-width="1.5" stroke-linecap="butt"/>
<text class="b" x="199.20" y="1391.10" font-family="Liberation Sans" font-size="13" font-weight="bold" text-anchor="middle" >CSE</text>
<line x1="283.50" y1="1369.60" x2="283.50" y2="1375.90" stroke="#000" stroke-width="1.5" stroke-linecap="butt"/>
<text class="b" x="283.60" y="1391.10" font-family="Liberation Sans" font-size="13" font-weight="bold" text-anchor="middle" >LPS</text>
<line x1="367.90" y1="1369.60" x2="367.90" y2="1375.90" stroke="#000" stroke-width="1.5" stroke-linecap="butt"/>
<text class="b" x="369.70" y="1391.10" font-family="Liberation Sans" font-size="13" font-weight="bold" text-anchor="middle" >CSE</text>
<text class="b" x="369.70" y="1405.60" font-family="Liberation Sans" font-size="13" font-weight="bold" text-anchor="middle" >+ LPS</text>
<text class="b" transform="translate(20.10,1275.40) rotate(-90)" x="0" y="0" font-family="Liberation Sans" font-size="13" font-weight="bold" text-anchor="middle" textLength="137.0" lengthAdjust="spacing">Gro-α/CXCL1 (pg/mL)</text>
<line x1="287.50" y1="1105.90" x2="374.20" y2="1105.90" stroke="#000" stroke-width="1" stroke-linecap="butt"/>
<text x="335.50" y="1103.50" font-family="Liberation Sans" font-size="16.5" font-weight="normal" text-anchor="middle" stroke="#000" stroke-width="0.5">#</text>
<line x1="203.50" y1="1122.90" x2="374.20" y2="1122.90" stroke="#000" stroke-width="1" stroke-linecap="butt"/>
<text transform="translate(294.10,1121.70) scale(1.2,1)" x="0" y="0" font-family="Liberation Serif" font-size="17" text-anchor="middle" stroke="#000" stroke-width="0.15">α</text>
<line x1="120.80" y1="1139.90" x2="374.20" y2="1139.90" stroke="#000" stroke-width="1" stroke-linecap="butt"/>
<text class="b" x="248.10" y="1141.40" font-family="Liberation Sans" font-size="14.5" font-weight="bold" text-anchor="middle" >*</text>
<line x1="120.80" y1="1172.60" x2="283.20" y2="1172.60" stroke="#000" stroke-width="1" stroke-linecap="butt"/>
<text class="b" x="194.90" y="1173.20" font-family="Liberation Sans" font-size="14.5" font-weight="bold" text-anchor="middle" >*</text>
<line x1="101.00" y1="1327.20" x2="129.60" y2="1327.20" stroke="#000" stroke-width="1" stroke-linecap="butt"/>
<line x1="101.00" y1="1346.30" x2="129.60" y2="1346.30" stroke="#000" stroke-width="1" stroke-linecap="butt"/>
<line x1="115.30" y1="1327.20" x2="115.30" y2="1346.30" stroke="#000" stroke-width="1" stroke-linecap="butt"/>
<circle cx="115.00" cy="1285.60" r="3.5" fill="#fff" fill-opacity="0" stroke="#000" stroke-width="1.2"/>
<circle cx="126.80" cy="1329.70" r="3.5" fill="#fff" fill-opacity="0" stroke="#000" stroke-width="1.2"/>
<circle cx="104.00" cy="1338.00" r="3.5" fill="#fff" fill-opacity="0" stroke="#000" stroke-width="1.2"/>
<circle cx="115.00" cy="1338.50" r="3.5" fill="#fff" fill-opacity="0" stroke="#000" stroke-width="1.2"/>
<circle cx="104.00" cy="1349.80" r="3.5" fill="#fff" fill-opacity="0" stroke="#000" stroke-width="1.2"/>
<circle cx="115.00" cy="1359.60" r="3.5" fill="#fff" fill-opacity="0" stroke="#000" stroke-width="1.2"/>
<circle cx="126.80" cy="1359.10" r="3.5" fill="#fff" fill-opacity="0" stroke="#000" stroke-width="1.2"/>
<line x1="86.50" y1="1337.00" x2="143.90" y2="1337.00" stroke="#000" stroke-width="2.5" stroke-linecap="butt"/>
<line x1="185.50" y1="1327.20" x2="213.80" y2="1327.20" stroke="#000" stroke-width="1" stroke-linecap="butt"/>
<line x1="185.50" y1="1339.50" x2="213.80" y2="1339.50" stroke="#000" stroke-width="1" stroke-linecap="butt"/>
<line x1="199.65" y1="1327.20" x2="199.65" y2="1339.50" stroke="#000" stroke-width="1" stroke-linecap="butt"/>
<circle cx="188.00" cy="1315.70" r="4.1" fill="#000"/>
<circle cx="210.50" cy="1317.20" r="4.1" fill="#000"/>
<circle cx="199.20" cy="1323.20" r="4.1" fill="#000"/>
<circle cx="188.00" cy="1332.30" r="4.1" fill="#000"/>
<circle cx="199.20" cy="1338.30" r="4.1" fill="#000"/>
<circle cx="210.50" cy="1348.50" r="4.1" fill="#000"/>
<circle cx="199.20" cy="1359.60" r="4.1" fill="#000"/>
<line x1="170.40" y1="1333.30" x2="228.30" y2="1333.30" stroke="#000" stroke-width="2.5" stroke-linecap="butt"/>
<line x1="269.70" y1="1202.30" x2="297.70" y2="1202.30" stroke="#000" stroke-width="1" stroke-linecap="butt"/>
<line x1="269.70" y1="1219.60" x2="297.70" y2="1219.60" stroke="#000" stroke-width="1" stroke-linecap="butt"/>
<line x1="283.70" y1="1202.30" x2="283.70" y2="1219.60" stroke="#000" stroke-width="1" stroke-linecap="butt"/>
<rect x="279.90" y="1176.20" width="7.2" height="7.2" fill="none" stroke="#222" stroke-width="1.1"/>
<rect x="291.40" y="1176.20" width="7.2" height="7.2" fill="none" stroke="#222" stroke-width="1.1"/>
<rect x="268.60" y="1203.00" width="7.2" height="7.2" fill="none" stroke="#222" stroke-width="1.1"/>
<rect x="276.10" y="1202.20" width="7.2" height="7.2" fill="none" stroke="#222" stroke-width="1.1"/>
<rect x="279.90" y="1214.50" width="7.2" height="7.2" fill="none" stroke="#222" stroke-width="1.1"/>
<rect x="268.60" y="1225.30" width="7.2" height="7.2" fill="none" stroke="#222" stroke-width="1.1"/>
<rect x="279.90" y="1228.00" width="7.2" height="7.2" fill="none" stroke="#222" stroke-width="1.1"/>
<rect x="291.40" y="1225.30" width="7.2" height="7.2" fill="none" stroke="#222" stroke-width="1.1"/>
<line x1="254.60" y1="1210.80" x2="312.50" y2="1210.80" stroke="#000" stroke-width="2.5" stroke-linecap="butt"/>
<line x1="353.60" y1="1220.90" x2="382.50" y2="1220.90" stroke="#000" stroke-width="1" stroke-linecap="butt"/>
<line x1="353.60" y1="1236.20" x2="382.50" y2="1236.20" stroke="#000" stroke-width="1" stroke-linecap="butt"/>
<line x1="368.05" y1="1220.90" x2="368.05" y2="1236.20" stroke="#000" stroke-width="1" stroke-linecap="butt"/>
<rect x="364.00" y="1195.40" width="7.8" height="7.8" fill="#000"/>
<rect x="364.00" y="1214.20" width="7.8" height="7.8" fill="#000"/>
<rect x="341.00" y="1219.50" width="7.8" height="7.8" fill="#000"/>
<rect x="352.50" y="1227.70" width="7.8" height="7.8" fill="#000"/>
<rect x="364.00" y="1229.00" width="7.8" height="7.8" fill="#000"/>
<rect x="375.30" y="1226.20" width="7.8" height="7.8" fill="#000"/>
<rect x="364.00" y="1261.90" width="7.8" height="7.8" fill="#000"/>
<line x1="339.10" y1="1228.40" x2="396.70" y2="1228.40" stroke="#000" stroke-width="2.5" stroke-linecap="butt"/>
<text transform="translate(24.00,1452.00) scale(1.06,1)" x="0" y="0" font-family="Liberation Sans" font-size="33" stroke="#000" stroke-width="0.35">e</text>
<line x1="73.30" y1="1485.90" x2="73.30" y2="1676.70" stroke="#000" stroke-width="2.2" stroke-linecap="butt"/>
<line x1="67.20" y1="1487.00" x2="73.30" y2="1487.00" stroke="#000" stroke-width="1.5" stroke-linecap="butt"/>
<text class="b" transform="translate(66.30,1492.83) scale(1,1.0)" x="0" y="0" font-family="Liberation Sans" font-size="15.3" font-weight="bold" text-anchor="end">2000</text>
<line x1="67.20" y1="1534.42" x2="73.30" y2="1534.42" stroke="#000" stroke-width="1.5" stroke-linecap="butt"/>
<text class="b" transform="translate(66.30,1540.25) scale(1,1.0)" x="0" y="0" font-family="Liberation Sans" font-size="15.3" font-weight="bold" text-anchor="end">1500</text>
<line x1="67.20" y1="1581.84" x2="73.30" y2="1581.84" stroke="#000" stroke-width="1.5" stroke-linecap="butt"/>
<text class="b" transform="translate(66.30,1587.67) scale(1,1.0)" x="0" y="0" font-family="Liberation Sans" font-size="15.3" font-weight="bold" text-anchor="end">1000</text>
<line x1="67.20" y1="1629.26" x2="73.30" y2="1629.26" stroke="#000" stroke-width="1.5" stroke-linecap="butt"/>
<text class="b" transform="translate(66.30,1635.09) scale(1,1.0)" x="0" y="0" font-family="Liberation Sans" font-size="15.3" font-weight="bold" text-anchor="end">500</text>
<line x1="67.20" y1="1676.68" x2="73.30" y2="1676.68" stroke="#000" stroke-width="1.5" stroke-linecap="butt"/>
<text class="b" transform="translate(66.30,1682.51) scale(1,1.0)" x="0" y="0" font-family="Liberation Sans" font-size="15.3" font-weight="bold" text-anchor="end">0</text>
<line x1="67.20" y1="1676.60" x2="393.00" y2="1676.60" stroke="#000" stroke-width="2.2" stroke-linecap="butt"/>
<line x1="113.30" y1="1676.60" x2="113.30" y2="1682.90" stroke="#000" stroke-width="1.5" stroke-linecap="butt"/>
<text class="b" x="111.80" y="1700.40" font-family="Liberation Sans" font-size="13" font-weight="bold" text-anchor="middle" >Ctl</text>
<line x1="193.30" y1="1676.60" x2="193.30" y2="1682.90" stroke="#000" stroke-width="1.5" stroke-linecap="butt"/>
<text class="b" x="196.20" y="1700.40" font-family="Liberation Sans" font-size="13" font-weight="bold" text-anchor="middle" >CSE</text>
<line x1="272.70" y1="1676.60" x2="272.70" y2="1682.90" stroke="#000" stroke-width="1.5" stroke-linecap="butt"/>
<text class="b" x="273.60" y="1700.40" font-family="Liberation Sans" font-size="13" font-weight="bold" text-anchor="middle" >LPS</text>
<line x1="352.10" y1="1676.60" x2="352.10" y2="1682.90" stroke="#000" stroke-width="1.5" stroke-linecap="butt"/>
<text class="b" x="357.70" y="1700.40" font-family="Liberation Sans" font-size="13" font-weight="bold" text-anchor="middle" >CSE</text>
<text class="b" x="357.70" y="1714.90" font-family="Liberation Sans" font-size="13" font-weight="bold" text-anchor="middle" >+ LPS</text>
<text class="b" transform="translate(22.00,1582.70) rotate(-90)" x="0" y="0" font-family="Liberation Sans" font-size="13" font-weight="bold" text-anchor="middle" textLength="130.5" lengthAdjust="spacing">MCP-1/CCL2 (pg/mL)</text>
<line x1="270.70" y1="1472.90" x2="351.60" y2="1472.90" stroke="#000" stroke-width="1" stroke-linecap="butt"/>
<text x="313.00" y="1470.10" font-family="Liberation Sans" font-size="16.5" font-weight="normal" text-anchor="middle" stroke="#000" stroke-width="0.5">#</text>
<line x1="193.70" y1="1490.30" x2="351.60" y2="1490.30" stroke="#000" stroke-width="1" stroke-linecap="butt"/>
<text transform="translate(275.70,1488.70) scale(1.2,1)" x="0" y="0" font-family="Liberation Serif" font-size="17" text-anchor="middle" stroke="#000" stroke-width="0.15">α</text>
<line x1="111.70" y1="1506.80" x2="351.60" y2="1506.80" stroke="#000" stroke-width="1" stroke-linecap="butt"/>
<text class="b" x="230.70" y="1508.40" font-family="Liberation Sans" font-size="14.5" font-weight="bold" text-anchor="middle" >*</text>
<line x1="114.00" y1="1573.40" x2="268.50" y2="1573.40" stroke="#000" stroke-width="1" stroke-linecap="butt"/>
<text class="b" x="184.10" y="1573.90" font-family="Liberation Sans" font-size="14.5" font-weight="bold" text-anchor="middle" >*</text>
<circle cx="102.30" cy="1643.70" r="3.5" fill="#fff" fill-opacity="0" stroke="#000" stroke-width="1.2"/>
<circle cx="113.30" cy="1648.30" r="3.5" fill="#fff" fill-opacity="0" stroke="#000" stroke-width="1.2"/>
<circle cx="124.70" cy="1645.00" r="3.5" fill="#fff" fill-opacity="0" stroke="#000" stroke-width="1.2"/>
<circle cx="136.30" cy="1643.00" r="3.5" fill="#fff" fill-opacity="0" stroke="#000" stroke-width="1.2"/>
<line x1="86.70" y1="1645.30" x2="140.70" y2="1645.30" stroke="#000" stroke-width="2.0" stroke-linecap="butt"/>
<line x1="180.00" y1="1646.30" x2="206.00" y2="1646.30" stroke="#000" stroke-width="1" stroke-linecap="butt"/>
<line x1="180.00" y1="1651.00" x2="206.00" y2="1651.00" stroke="#000" stroke-width="1" stroke-linecap="butt"/>
<line x1="193.00" y1="1646.30" x2="193.00" y2="1651.00" stroke="#000" stroke-width="1" stroke-linecap="butt"/>
<circle cx="182.00" cy="1648.00" r="4.1" fill="#000"/>
<circle cx="193.30" cy="1653.00" r="4.1" fill="#000"/>
<circle cx="204.30" cy="1653.00" r="4.1" fill="#000"/>
<circle cx="216.00" cy="1642.00" r="4.1" fill="#000"/>
<line x1="166.00" y1="1648.70" x2="220.70" y2="1648.70" stroke="#000" stroke-width="2.0" stroke-linecap="butt"/>
<line x1="259.40" y1="1582.90" x2="286.50" y2="1582.90" stroke="#000" stroke-width="1" stroke-linecap="butt"/>
<line x1="259.40" y1="1597.20" x2="286.50" y2="1597.20" stroke="#000" stroke-width="1" stroke-linecap="butt"/>
<line x1="272.95" y1="1582.90" x2="272.95" y2="1597.20" stroke="#000" stroke-width="1" stroke-linecap="butt"/>
<rect x="257.80" y="1576.80" width="7.2" height="7.2" fill="none" stroke="#222" stroke-width="1.1"/>
<rect x="280.60" y="1576.80" width="7.2" height="7.2" fill="none" stroke="#222" stroke-width="1.1"/>
<rect x="269.10" y="1584.30" width="7.2" height="7.2" fill="none" stroke="#222" stroke-width="1.1"/>
<rect x="269.10" y="1607.40" width="7.2" height="7.2" fill="none" stroke="#222" stroke-width="1.1"/>
<line x1="245.40" y1="1589.90" x2="300.30" y2="1589.90" stroke="#000" stroke-width="2.0" stroke-linecap="butt"/>
<line x1="339.30" y1="1531.80" x2="365.90" y2="1531.80" stroke="#000" stroke-width="1" stroke-linecap="butt"/>
<line x1="339.30" y1="1549.60" x2="365.90" y2="1549.60" stroke="#000" stroke-width="1" stroke-linecap="butt"/>
<line x1="352.60" y1="1531.80" x2="352.60" y2="1549.60" stroke="#000" stroke-width="1" stroke-linecap="butt"/>
<rect x="337.20" y="1517.10" width="7.8" height="7.8" fill="#000"/>
<rect x="348.70" y="1526.40" width="7.8" height="7.8" fill="#000"/>
<rect x="348.70" y="1551.90" width="7.8" height="7.8" fill="#000"/>
<rect x="360.00" y="1551.90" width="7.8" height="7.8" fill="#000"/>
<line x1="325.30" y1="1540.60" x2="379.70" y2="1540.60" stroke="#000" stroke-width="2.0" stroke-linecap="butt"/>
<text transform="translate(483.30,91.60) scale(1.06,1)" x="0" y="0" font-family="Liberation Sans" font-size="33" stroke="#000" stroke-width="0.35">f</text>
<line x1="537.20" y1="131.80" x2="537.20" y2="221.80" stroke="#000" stroke-width="2.2" stroke-linecap="butt"/>
<line x1="531.10" y1="132.90" x2="537.20" y2="132.90" stroke="#000" stroke-width="1.5" stroke-linecap="butt"/>
<text class="b" transform="translate(530.20,137.91) scale(1,1.12)" x="0" y="0" font-family="Liberation Sans" font-size="13.5" font-weight="bold" text-anchor="end">800</text>
<line x1="531.10" y1="155.00" x2="537.20" y2="155.00" stroke="#000" stroke-width="1.5" stroke-linecap="butt"/>
<text class="b" transform="translate(530.20,160.01) scale(1,1.12)" x="0" y="0" font-family="Liberation Sans" font-size="13.5" font-weight="bold" text-anchor="end">600</text>
<line x1="531.10" y1="177.10" x2="537.20" y2="177.10" stroke="#000" stroke-width="1.5" stroke-linecap="butt"/>
<text class="b" transform="translate(530.20,182.11) scale(1,1.12)" x="0" y="0" font-family="Liberation Sans" font-size="13.5" font-weight="bold" text-anchor="end">400</text>
<line x1="531.10" y1="199.20" x2="537.20" y2="199.20" stroke="#000" stroke-width="1.5" stroke-linecap="butt"/>
<text class="b" transform="translate(530.20,204.21) scale(1,1.12)" x="0" y="0" font-family="Liberation Sans" font-size="13.5" font-weight="bold" text-anchor="end">200</text>
<line x1="533.20" y1="221.80" x2="541.20" y2="221.80" stroke="#000" stroke-width="1.5" stroke-linecap="butt"/>
<line x1="537.20" y1="236.10" x2="537.20" y2="324.30" stroke="#000" stroke-width="2.2" stroke-linecap="butt"/>
<line x1="531.10" y1="236.10" x2="537.20" y2="236.10" stroke="#000" stroke-width="1.5" stroke-linecap="butt"/>
<text class="b" transform="translate(530.20,241.11) scale(1,1.12)" x="0" y="0" font-family="Liberation Sans" font-size="13.5" font-weight="bold" text-anchor="end">2.0</text>
<line x1="531.10" y1="258.15" x2="537.20" y2="258.15" stroke="#000" stroke-width="1.5" stroke-linecap="butt"/>
<text class="b" transform="translate(530.20,263.16) scale(1,1.12)" x="0" y="0" font-family="Liberation Sans" font-size="13.5" font-weight="bold" text-anchor="end">1.5</text>
<line x1="531.10" y1="280.20" x2="537.20" y2="280.20" stroke="#000" stroke-width="1.5" stroke-linecap="butt"/>
<text class="b" transform="translate(530.20,285.21) scale(1,1.12)" x="0" y="0" font-family="Liberation Sans" font-size="13.5" font-weight="bold" text-anchor="end">1.0</text>
<line x1="531.10" y1="302.25" x2="537.20" y2="302.25" stroke="#000" stroke-width="1.5" stroke-linecap="butt"/>
<text class="b" transform="translate(530.20,307.26) scale(1,1.12)" x="0" y="0" font-family="Liberation Sans" font-size="13.5" font-weight="bold" text-anchor="end">0.5</text>
<line x1="531.10" y1="324.30" x2="537.20" y2="324.30" stroke="#000" stroke-width="1.5" stroke-linecap="butt"/>
<text class="b" transform="translate(530.20,329.31) scale(1,1.12)" x="0" y="0" font-family="Liberation Sans" font-size="13.5" font-weight="bold" text-anchor="end">0.0</text>
<line x1="531.10" y1="236.10" x2="541.40" y2="236.10" stroke="#000" stroke-width="1.5" stroke-linecap="butt"/>
<line x1="531.10" y1="324.30" x2="822.40" y2="324.30" stroke="#000" stroke-width="2.2" stroke-linecap="butt"/>
<line x1="572.80" y1="324.30" x2="572.80" y2="330.60" stroke="#000" stroke-width="1.5" stroke-linecap="butt"/>
<text class="b" x="572.50" y="346.80" font-family="Liberation Sans" font-size="13" font-weight="bold" text-anchor="middle" >Ctl</text>
<line x1="643.70" y1="324.30" x2="643.70" y2="330.60" stroke="#000" stroke-width="1.5" stroke-linecap="butt"/>
<text class="b" x="646.00" y="346.80" font-family="Liberation Sans" font-size="13" font-weight="bold" text-anchor="middle" >CSE</text>
<line x1="714.70" y1="324.30" x2="714.70" y2="330.60" stroke="#000" stroke-width="1.5" stroke-linecap="butt"/>
<text class="b" x="716.50" y="346.80" font-family="Liberation Sans" font-size="13" font-weight="bold" text-anchor="middle" >LPS</text>
<line x1="786.10" y1="324.30" x2="786.10" y2="330.60" stroke="#000" stroke-width="1.5" stroke-linecap="butt"/>
<text class="b" x="787.20" y="346.80" font-family="Liberation Sans" font-size="13" font-weight="bold" text-anchor="middle" >CSE</text>
<text class="b" x="787.20" y="361.30" font-family="Liberation Sans" font-size="13" font-weight="bold" text-anchor="middle" >+ LPS</text>
<text class="b" transform="translate(483.80,228.70) rotate(-90)" x="0" y="0" font-family="Liberation Sans" font-size="13" font-weight="bold" text-anchor="middle" textLength="131.5" lengthAdjust="spacing">mRNA TNF-α/GAPDH</text>
<text class="b" transform="translate(499.60,228.70) rotate(-90)" x="0" y="0" font-family="Liberation Sans" font-size="13" font-weight="bold" text-anchor="middle" textLength="86.0" lengthAdjust="spacing">(fold change)</text>
<line x1="577.30" y1="95.60" x2="788.70" y2="95.60" stroke="#000" stroke-width="1" stroke-linecap="butt"/>
<text class="b" x="674.40" y="93.80" font-family="Liberation Sans" font-size="14.5" font-weight="bold" text-anchor="middle" >*</text>
<line x1="577.30" y1="128.60" x2="718.00" y2="128.60" stroke="#000" stroke-width="1" stroke-linecap="butt"/>
<text class="b" x="651.70" y="129.00" font-family="Liberation Sans" font-size="14.5" font-weight="bold" text-anchor="middle" >*</text>
<line x1="560.00" y1="282.30" x2="586.00" y2="282.30" stroke="#000" stroke-width="1" stroke-linecap="butt"/>
<line x1="560.00" y1="287.20" x2="586.00" y2="287.20" stroke="#000" stroke-width="1" stroke-linecap="butt"/>
<line x1="573.00" y1="282.30" x2="573.00" y2="287.20" stroke="#000" stroke-width="1" stroke-linecap="butt"/>
<circle cx="561.30" cy="280.70" r="4.1" fill="#000"/>
<circle cx="578.30" cy="280.20" r="4.1" fill="#000"/>
<circle cx="572.30" cy="288.20" r="4.1" fill="#000"/>
<circle cx="583.80" cy="288.20" r="4.1" fill="#000"/>
<line x1="548.00" y1="284.70" x2="596.90" y2="284.70" stroke="#000" stroke-width="2.3" stroke-linecap="butt"/>
<line x1="632.00" y1="264.70" x2="655.80" y2="264.70" stroke="#000" stroke-width="1" stroke-linecap="butt"/>
<line x1="632.00" y1="277.20" x2="655.80" y2="277.20" stroke="#000" stroke-width="1" stroke-linecap="butt"/>
<line x1="643.90" y1="264.70" x2="643.90" y2="277.20" stroke="#000" stroke-width="1" stroke-linecap="butt"/>
<circle cx="632.50" cy="255.40" r="3.5" fill="#fff" fill-opacity="0" stroke="#000" stroke-width="1.2"/>
<circle cx="643.70" cy="266.70" r="3.5" fill="#fff" fill-opacity="0" stroke="#000" stroke-width="1.2"/>
<circle cx="643.70" cy="281.00" r="3.5" fill="#fff" fill-opacity="0" stroke="#000" stroke-width="1.2"/>
<circle cx="655.00" cy="281.00" r="3.5" fill="#fff" fill-opacity="0" stroke="#000" stroke-width="1.2"/>
<line x1="619.20" y1="271.20" x2="668.10" y2="271.20" stroke="#000" stroke-width="2.3" stroke-linecap="butt"/>
<line x1="702.60" y1="145.00" x2="727.20" y2="145.00" stroke="#000" stroke-width="1" stroke-linecap="butt"/>
<line x1="702.60" y1="167.30" x2="727.20" y2="167.30" stroke="#000" stroke-width="1" stroke-linecap="butt"/>
<line x1="714.90" y1="145.00" x2="714.90" y2="167.30" stroke="#000" stroke-width="1" stroke-linecap="butt"/>
<rect x="699.50" y="133.10" width="7.2" height="7.2" fill="none" stroke="#222" stroke-width="1.1"/>
<rect x="711.10" y="133.10" width="7.2" height="7.2" fill="none" stroke="#222" stroke-width="1.1"/>
<rect x="722.60" y="168.90" width="7.2" height="7.2" fill="none" stroke="#222" stroke-width="1.1"/>
<rect x="711.10" y="174.40" width="7.2" height="7.2" fill="none" stroke="#222" stroke-width="1.1"/>
<line x1="690.10" y1="155.70" x2="739.70" y2="155.70" stroke="#000" stroke-width="2.3" stroke-linecap="butt"/>
<line x1="774.10" y1="175.00" x2="798.10" y2="175.00" stroke="#000" stroke-width="1" stroke-linecap="butt"/>
<line x1="774.10" y1="188.30" x2="798.10" y2="188.30" stroke="#000" stroke-width="1" stroke-linecap="butt"/>
<line x1="786.10" y1="175.00" x2="786.10" y2="188.30" stroke="#000" stroke-width="1" stroke-linecap="butt"/>
<rect x="770.70" y="163.10" width="7.8" height="7.8" fill="#000"/>
<rect x="781.90" y="171.40" width="7.8" height="7.8" fill="#000"/>
<rect x="781.90" y="188.90" width="7.8" height="7.8" fill="#000"/>
<rect x="793.70" y="188.90" width="7.8" height="7.8" fill="#000"/>
<line x1="761.30" y1="181.80" x2="810.70" y2="181.80" stroke="#000" stroke-width="2.3" stroke-linecap="butt"/>
<text transform="translate(483.30,423.60) scale(1.06,1)" x="0" y="0" font-family="Liberation Sans" font-size="33" stroke="#000" stroke-width="0.35">g</text>
<line x1="537.20" y1="475.90" x2="537.20" y2="572.10" stroke="#000" stroke-width="2.2" stroke-linecap="butt"/>
<line x1="531.10" y1="477.00" x2="537.20" y2="477.00" stroke="#000" stroke-width="1.5" stroke-linecap="butt"/>
<text class="b" transform="translate(530.20,482.01) scale(1,1.12)" x="0" y="0" font-family="Liberation Sans" font-size="13.5" font-weight="bold" text-anchor="end">800</text>
<line x1="531.10" y1="500.90" x2="537.20" y2="500.90" stroke="#000" stroke-width="1.5" stroke-linecap="butt"/>
<text class="b" transform="translate(530.20,505.91) scale(1,1.12)" x="0" y="0" font-family="Liberation Sans" font-size="13.5" font-weight="bold" text-anchor="end">600</text>
<line x1="531.10" y1="524.80" x2="537.20" y2="524.80" stroke="#000" stroke-width="1.5" stroke-linecap="butt"/>
<text class="b" transform="translate(530.20,529.81) scale(1,1.12)" x="0" y="0" font-family="Liberation Sans" font-size="13.5" font-weight="bold" text-anchor="end">400</text>
<line x1="531.10" y1="548.70" x2="537.20" y2="548.70" stroke="#000" stroke-width="1.5" stroke-linecap="butt"/>
<text class="b" transform="translate(530.20,553.71) scale(1,1.12)" x="0" y="0" font-family="Liberation Sans" font-size="13.5" font-weight="bold" text-anchor="end">200</text>
<line x1="533.20" y1="572.10" x2="541.20" y2="572.10" stroke="#000" stroke-width="1.5" stroke-linecap="butt"/>
<line x1="537.20" y1="586.10" x2="537.20" y2="681.10" stroke="#000" stroke-width="2.2" stroke-linecap="butt"/>
<line x1="531.10" y1="586.10" x2="537.20" y2="586.10" stroke="#000" stroke-width="1.5" stroke-linecap="butt"/>
<text class="b" transform="translate(530.20,591.11) scale(1,1.12)" x="0" y="0" font-family="Liberation Sans" font-size="13.5" font-weight="bold" text-anchor="end">2.0</text>
<line x1="531.10" y1="609.85" x2="537.20" y2="609.85" stroke="#000" stroke-width="1.5" stroke-linecap="butt"/>
<text class="b" transform="translate(530.20,614.86) scale(1,1.12)" x="0" y="0" font-family="Liberation Sans" font-size="13.5" font-weight="bold" text-anchor="end">1.5</text>
<line x1="531.10" y1="633.60" x2="537.20" y2="633.60" stroke="#000" stroke-width="1.5" stroke-linecap="butt"/>
<text class="b" transform="translate(530.20,638.61) scale(1,1.12)" x="0" y="0" font-family="Liberation Sans" font-size="13.5" font-weight="bold" text-anchor="end">1.0</text>
<line x1="531.10" y1="657.35" x2="537.20" y2="657.35" stroke="#000" stroke-width="1.5" stroke-linecap="butt"/>
<text class="b" transform="translate(530.20,662.36) scale(1,1.12)" x="0" y="0" font-family="Liberation Sans" font-size="13.5" font-weight="bold" text-anchor="end">0.5</text>
<line x1="531.10" y1="681.10" x2="537.20" y2="681.10" stroke="#000" stroke-width="1.5" stroke-linecap="butt"/>
<text class="b" transform="translate(530.20,686.11) scale(1,1.12)" x="0" y="0" font-family="Liberation Sans" font-size="13.5" font-weight="bold" text-anchor="end">0.0</text>
<line x1="531.10" y1="586.10" x2="541.40" y2="586.10" stroke="#000" stroke-width="1.5" stroke-linecap="butt"/>
<line x1="531.10" y1="681.10" x2="838.20" y2="681.10" stroke="#000" stroke-width="2.2" stroke-linecap="butt"/>
<line x1="574.30" y1="681.10" x2="574.30" y2="687.40" stroke="#000" stroke-width="1.5" stroke-linecap="butt"/>
<text class="b" x="571.00" y="702.10" font-family="Liberation Sans" font-size="13" font-weight="bold" text-anchor="middle" >Ctl</text>
<line x1="649.50" y1="681.10" x2="649.50" y2="687.40" stroke="#000" stroke-width="1.5" stroke-linecap="butt"/>
<text class="b" x="648.90" y="702.10" font-family="Liberation Sans" font-size="13" font-weight="bold" text-anchor="middle" >CSE</text>
<line x1="724.20" y1="681.10" x2="724.20" y2="687.40" stroke="#000" stroke-width="1.5" stroke-linecap="butt"/>
<text class="b" x="724.20" y="702.10" font-family="Liberation Sans" font-size="13" font-weight="bold" text-anchor="middle" >LPS</text>
<line x1="799.40" y1="681.10" x2="799.40" y2="687.40" stroke="#000" stroke-width="1.5" stroke-linecap="butt"/>
<text class="b" x="801.40" y="702.10" font-family="Liberation Sans" font-size="13" font-weight="bold" text-anchor="middle" >CSE</text>
<text class="b" x="801.40" y="716.60" font-family="Liberation Sans" font-size="13" font-weight="bold" text-anchor="middle" >+ LPS</text>
<text class="b" transform="translate(485.20,579.80) rotate(-90)" x="0" y="0" font-family="Liberation Sans" font-size="13" font-weight="bold" text-anchor="middle" textLength="111.8" lengthAdjust="spacing">mRNA IL-6/GAPDH</text>
<text class="b" transform="translate(500.60,580.50) rotate(-90)" x="0" y="0" font-family="Liberation Sans" font-size="13" font-weight="bold" text-anchor="middle" textLength="84.3" lengthAdjust="spacing">(fold change)</text>
<line x1="728.20" y1="426.80" x2="813.10" y2="426.80" stroke="#000" stroke-width="1" stroke-linecap="butt"/>
<text x="771.60" y="424.70" font-family="Liberation Sans" font-size="16.5" font-weight="normal" text-anchor="middle" stroke="#000" stroke-width="0.5">#</text>
<line x1="653.70" y1="443.30" x2="813.10" y2="443.30" stroke="#000" stroke-width="1" stroke-linecap="butt"/>
<text transform="translate(736.30,441.90) scale(1.2,1)" x="0" y="0" font-family="Liberation Serif" font-size="17" text-anchor="middle" stroke="#000" stroke-width="0.15">α</text>
<line x1="577.10" y1="460.50" x2="813.10" y2="460.50" stroke="#000" stroke-width="1" stroke-linecap="butt"/>
<text class="b" x="696.20" y="461.70" font-family="Liberation Sans" font-size="14.5" font-weight="bold" text-anchor="middle" >*</text>
<line x1="577.10" y1="478.80" x2="725.80" y2="478.80" stroke="#000" stroke-width="1" stroke-linecap="butt"/>
<text class="b" x="651.10" y="480.50" font-family="Liberation Sans" font-size="14.5" font-weight="bold" text-anchor="middle" >*</text>
<circle cx="563.00" cy="633.70" r="3.5" fill="#fff" fill-opacity="0" stroke="#000" stroke-width="1.2"/>
<circle cx="574.30" cy="633.70" r="3.5" fill="#fff" fill-opacity="0" stroke="#000" stroke-width="1.2"/>
<circle cx="579.80" cy="633.70" r="3.5" fill="#fff" fill-opacity="0" stroke="#000" stroke-width="1.2"/>
<circle cx="585.60" cy="633.70" r="3.5" fill="#fff" fill-opacity="0" stroke="#000" stroke-width="1.2"/>
<line x1="548.30" y1="633.70" x2="600.10" y2="633.70" stroke="#000" stroke-width="2.3" stroke-linecap="butt"/>
<line x1="636.70" y1="617.20" x2="662.00" y2="617.20" stroke="#000" stroke-width="1" stroke-linecap="butt"/>
<line x1="636.70" y1="641.30" x2="662.00" y2="641.30" stroke="#000" stroke-width="1" stroke-linecap="butt"/>
<line x1="649.35" y1="617.20" x2="649.35" y2="641.30" stroke="#000" stroke-width="1" stroke-linecap="butt"/>
<circle cx="649.50" cy="602.70" r="4.1" fill="#000"/>
<circle cx="649.50" cy="615.20" r="4.1" fill="#000"/>
<circle cx="649.50" cy="649.30" r="4.1" fill="#000"/>
<circle cx="660.50" cy="649.30" r="4.1" fill="#000"/>
<line x1="623.90" y1="628.70" x2="675.00" y2="628.70" stroke="#000" stroke-width="2.3" stroke-linecap="butt"/>
<line x1="711.70" y1="489.20" x2="737.20" y2="489.20" stroke="#000" stroke-width="1" stroke-linecap="butt"/>
<line x1="711.70" y1="502.30" x2="737.20" y2="502.30" stroke="#000" stroke-width="1" stroke-linecap="butt"/>
<line x1="724.45" y1="489.20" x2="724.45" y2="502.30" stroke="#000" stroke-width="1" stroke-linecap="butt"/>
<rect x="709.60" y="481.40" width="7.2" height="7.2" fill="none" stroke="#222" stroke-width="1.1"/>
<rect x="720.80" y="481.40" width="7.2" height="7.2" fill="none" stroke="#222" stroke-width="1.1"/>
<rect x="720.80" y="503.40" width="7.2" height="7.2" fill="none" stroke="#222" stroke-width="1.1"/>
<rect x="731.90" y="502.20" width="7.2" height="7.2" fill="none" stroke="#222" stroke-width="1.1"/>
<line x1="698.60" y1="495.80" x2="750.50" y2="495.80" stroke="#000" stroke-width="2.3" stroke-linecap="butt"/>
<line x1="786.30" y1="527.30" x2="812.40" y2="527.30" stroke="#000" stroke-width="1" stroke-linecap="butt"/>
<line x1="786.30" y1="542.10" x2="812.40" y2="542.10" stroke="#000" stroke-width="1" stroke-linecap="butt"/>
<line x1="799.35" y1="527.30" x2="799.35" y2="542.10" stroke="#000" stroke-width="1" stroke-linecap="butt"/>
<rect x="784.20" y="517.20" width="7.8" height="7.8" fill="#000"/>
<rect x="795.50" y="518.90" width="7.8" height="7.8" fill="#000"/>
<rect x="795.50" y="544.00" width="7.8" height="7.8" fill="#000"/>
<rect x="806.80" y="544.00" width="7.8" height="7.8" fill="#000"/>
<line x1="773.60" y1="534.60" x2="825.40" y2="534.60" stroke="#000" stroke-width="2.3" stroke-linecap="butt"/>
<text transform="translate(485.00,772.00) scale(1.06,1)" x="0" y="0" font-family="Liberation Sans" font-size="33" stroke="#000" stroke-width="0.35">h</text>
<line x1="537.00" y1="805.60" x2="537.00" y2="997.70" stroke="#000" stroke-width="2.2" stroke-linecap="butt"/>
<line x1="530.90" y1="806.70" x2="537.00" y2="806.70" stroke="#000" stroke-width="1.5" stroke-linecap="butt"/>
<text class="b" transform="translate(530.00,811.71) scale(1,1.12)" x="0" y="0" font-family="Liberation Sans" font-size="13.5" font-weight="bold" text-anchor="end">40</text>
<line x1="530.90" y1="854.45" x2="537.00" y2="854.45" stroke="#000" stroke-width="1.5" stroke-linecap="butt"/>
<text class="b" transform="translate(530.00,859.46) scale(1,1.12)" x="0" y="0" font-family="Liberation Sans" font-size="13.5" font-weight="bold" text-anchor="end">30</text>
<line x1="530.90" y1="902.20" x2="537.00" y2="902.20" stroke="#000" stroke-width="1.5" stroke-linecap="butt"/>
<text class="b" transform="translate(530.00,907.21) scale(1,1.12)" x="0" y="0" font-family="Liberation Sans" font-size="13.5" font-weight="bold" text-anchor="end">20</text>
<line x1="530.90" y1="949.95" x2="537.00" y2="949.95" stroke="#000" stroke-width="1.5" stroke-linecap="butt"/>
<text class="b" transform="translate(530.00,954.96) scale(1,1.12)" x="0" y="0" font-family="Liberation Sans" font-size="13.5" font-weight="bold" text-anchor="end">10</text>
<line x1="530.90" y1="997.70" x2="537.00" y2="997.70" stroke="#000" stroke-width="1.5" stroke-linecap="butt"/>
<text class="b" transform="translate(530.00,1002.71) scale(1,1.12)" x="0" y="0" font-family="Liberation Sans" font-size="13.5" font-weight="bold" text-anchor="end">0</text>
<line x1="530.90" y1="997.60" x2="821.90" y2="997.60" stroke="#000" stroke-width="2.2" stroke-linecap="butt"/>
<line x1="573.00" y1="997.60" x2="573.00" y2="1003.90" stroke="#000" stroke-width="1.5" stroke-linecap="butt"/>
<text class="b" x="572.70" y="1020.10" font-family="Liberation Sans" font-size="13" font-weight="bold" text-anchor="middle" >Ctl</text>
<line x1="643.70" y1="997.60" x2="643.70" y2="1003.90" stroke="#000" stroke-width="1.5" stroke-linecap="butt"/>
<text class="b" x="644.00" y="1020.10" font-family="Liberation Sans" font-size="13" font-weight="bold" text-anchor="middle" >CSE</text>
<line x1="714.70" y1="997.60" x2="714.70" y2="1003.90" stroke="#000" stroke-width="1.5" stroke-linecap="butt"/>
<text class="b" x="716.50" y="1020.10" font-family="Liberation Sans" font-size="13" font-weight="bold" text-anchor="middle" >LPS</text>
<line x1="786.10" y1="997.60" x2="786.10" y2="1003.90" stroke="#000" stroke-width="1.5" stroke-linecap="butt"/>
<text class="b" x="788.80" y="1020.10" font-family="Liberation Sans" font-size="13" font-weight="bold" text-anchor="middle" >CSE</text>
<text class="b" x="788.80" y="1034.60" font-family="Liberation Sans" font-size="13" font-weight="bold" text-anchor="middle" >+ LPS</text>
<text class="b" transform="translate(490.00,902.90) rotate(-90)" x="0" y="0" font-family="Liberation Sans" font-size="13" font-weight="bold" text-anchor="middle" textLength="114.2" lengthAdjust="spacing">mRNA IL-8/GAPDH</text>
<text class="b" transform="translate(506.50,902.00) rotate(-90)" x="0" y="0" font-family="Liberation Sans" font-size="13" font-weight="bold" text-anchor="middle" textLength="86.7" lengthAdjust="spacing">(fold change)</text>
<line x1="715.10" y1="794.50" x2="788.60" y2="794.50" stroke="#000" stroke-width="1" stroke-linecap="butt"/>
<text x="754.50" y="790.80" font-family="Liberation Sans" font-size="16.5" font-weight="normal" text-anchor="middle" stroke="#000" stroke-width="0.5">#</text>
<line x1="645.20" y1="814.50" x2="787.50" y2="814.50" stroke="#000" stroke-width="1" stroke-linecap="butt"/>
<text transform="translate(718.80,811.00) scale(1.2,1)" x="0" y="0" font-family="Liberation Serif" font-size="17" text-anchor="middle" stroke="#000" stroke-width="0.15">α</text>
<line x1="575.30" y1="834.50" x2="787.50" y2="834.50" stroke="#000" stroke-width="1" stroke-linecap="butt"/>
<text class="b" x="673.20" y="836.50" font-family="Liberation Sans" font-size="14.5" font-weight="bold" text-anchor="middle" >*</text>
<line x1="568.10" y1="933.20" x2="707.00" y2="933.20" stroke="#000" stroke-width="1" stroke-linecap="butt"/>
<text class="b" x="636.50" y="931.20" font-family="Liberation Sans" font-size="14.5" font-weight="bold" text-anchor="middle" >*</text>
<line x1="568.10" y1="962.80" x2="641.60" y2="962.80" stroke="#000" stroke-width="1" stroke-linecap="butt"/>
<text class="b" x="604.90" y="963.90" font-family="Liberation Sans" font-size="14.5" font-weight="bold" text-anchor="middle" >*</text>
<circle cx="561.30" cy="993.70" r="3.5" fill="#fff" fill-opacity="0" stroke="#000" stroke-width="1.2"/>
<circle cx="572.70" cy="994.30" r="3.5" fill="#fff" fill-opacity="0" stroke="#000" stroke-width="1.2"/>
<circle cx="578.00" cy="993.00" r="3.5" fill="#fff" fill-opacity="0" stroke="#000" stroke-width="1.2"/>
<circle cx="583.70" cy="994.00" r="3.5" fill="#fff" fill-opacity="0" stroke="#000" stroke-width="1.2"/>
<line x1="548.00" y1="993.30" x2="597.70" y2="993.30" stroke="#000" stroke-width="1.9" stroke-linecap="butt"/>
<line x1="632.00" y1="976.70" x2="656.00" y2="976.70" stroke="#000" stroke-width="1" stroke-linecap="butt"/>
<line x1="632.00" y1="985.70" x2="656.00" y2="985.70" stroke="#000" stroke-width="1" stroke-linecap="butt"/>
<line x1="644.00" y1="976.70" x2="644.00" y2="985.70" stroke="#000" stroke-width="1" stroke-linecap="butt"/>
<circle cx="632.70" cy="973.30" r="4.1" fill="#000"/>
<circle cx="643.70" cy="973.30" r="4.1" fill="#000"/>
<circle cx="643.70" cy="989.30" r="4.1" fill="#000"/>
<circle cx="655.00" cy="987.30" r="4.1" fill="#000"/>
<line x1="619.00" y1="981.30" x2="668.00" y2="981.30" stroke="#000" stroke-width="1.9" stroke-linecap="butt"/>
<line x1="702.60" y1="958.50" x2="727.20" y2="958.50" stroke="#000" stroke-width="1" stroke-linecap="butt"/>
<line x1="702.60" y1="967.30" x2="727.20" y2="967.30" stroke="#000" stroke-width="1" stroke-linecap="butt"/>
<line x1="714.90" y1="958.50" x2="714.90" y2="967.30" stroke="#000" stroke-width="1" stroke-linecap="butt"/>
<rect x="700.00" y="948.70" width="7.2" height="7.2" fill="none" stroke="#222" stroke-width="1.1"/>
<rect x="711.10" y="955.20" width="7.2" height="7.2" fill="none" stroke="#222" stroke-width="1.1"/>
<rect x="711.10" y="966.70" width="7.2" height="7.2" fill="none" stroke="#222" stroke-width="1.1"/>
<rect x="722.60" y="966.70" width="7.2" height="7.2" fill="none" stroke="#222" stroke-width="1.1"/>
<line x1="690.60" y1="962.80" x2="739.20" y2="962.80" stroke="#000" stroke-width="1.9" stroke-linecap="butt"/>
<line x1="774.10" y1="875.10" x2="798.10" y2="875.10" stroke="#000" stroke-width="1" stroke-linecap="butt"/>
<line x1="774.10" y1="925.00" x2="798.10" y2="925.00" stroke="#000" stroke-width="1" stroke-linecap="butt"/>
<line x1="786.10" y1="875.10" x2="786.10" y2="925.00" stroke="#000" stroke-width="1" stroke-linecap="butt"/>
<rect x="782.20" y="842.10" width="7.8" height="7.8" fill="#000"/>
<rect x="782.20" y="866.20" width="7.8" height="7.8" fill="#000"/>
<rect x="782.20" y="938.40" width="7.8" height="7.8" fill="#000"/>
<rect x="793.70" y="938.40" width="7.8" height="7.8" fill="#000"/>
<line x1="761.80" y1="899.90" x2="810.40" y2="899.90" stroke="#000" stroke-width="1.9" stroke-linecap="butt"/>
<text transform="translate(484.00,1146.20) scale(1.06,1)" x="0" y="0" font-family="Liberation Sans" font-size="33" stroke="#000" stroke-width="0.35">i</text>
<line x1="537.20" y1="1171.10" x2="537.20" y2="1262.00" stroke="#000" stroke-width="2.2" stroke-linecap="butt"/>
<line x1="531.10" y1="1172.20" x2="537.20" y2="1172.20" stroke="#000" stroke-width="1.5" stroke-linecap="butt"/>
<text class="b" transform="translate(530.20,1177.29) scale(1,1.12)" x="0" y="0" font-family="Liberation Sans" font-size="13.7" font-weight="bold" text-anchor="end">100</text>
<line x1="531.10" y1="1191.12" x2="537.20" y2="1191.12" stroke="#000" stroke-width="1.5" stroke-linecap="butt"/>
<text class="b" transform="translate(530.20,1196.21) scale(1,1.12)" x="0" y="0" font-family="Liberation Sans" font-size="13.7" font-weight="bold" text-anchor="end">80</text>
<line x1="531.10" y1="1210.04" x2="537.20" y2="1210.04" stroke="#000" stroke-width="1.5" stroke-linecap="butt"/>
<text class="b" transform="translate(530.20,1215.13) scale(1,1.12)" x="0" y="0" font-family="Liberation Sans" font-size="13.7" font-weight="bold" text-anchor="end">60</text>
<line x1="531.10" y1="1228.96" x2="537.20" y2="1228.96" stroke="#000" stroke-width="1.5" stroke-linecap="butt"/>
<text class="b" transform="translate(530.20,1234.05) scale(1,1.12)" x="0" y="0" font-family="Liberation Sans" font-size="13.7" font-weight="bold" text-anchor="end">40</text>
<line x1="531.10" y1="1247.88" x2="537.20" y2="1247.88" stroke="#000" stroke-width="1.5" stroke-linecap="butt"/>
<text class="b" transform="translate(530.20,1252.97) scale(1,1.12)" x="0" y="0" font-family="Liberation Sans" font-size="13.7" font-weight="bold" text-anchor="end">20</text>
<line x1="533.20" y1="1262.00" x2="541.20" y2="1262.00" stroke="#000" stroke-width="1.5" stroke-linecap="butt"/>
<line x1="537.20" y1="1276.10" x2="537.20" y2="1364.80" stroke="#000" stroke-width="2.2" stroke-linecap="butt"/>
<line x1="531.10" y1="1276.10" x2="537.20" y2="1276.10" stroke="#000" stroke-width="1.5" stroke-linecap="butt"/>
<text class="b" transform="translate(530.20,1281.19) scale(1,1.12)" x="0" y="0" font-family="Liberation Sans" font-size="13.7" font-weight="bold" text-anchor="end">5</text>
<line x1="531.10" y1="1293.84" x2="537.20" y2="1293.84" stroke="#000" stroke-width="1.5" stroke-linecap="butt"/>
<text class="b" transform="translate(530.20,1298.93) scale(1,1.12)" x="0" y="0" font-family="Liberation Sans" font-size="13.7" font-weight="bold" text-anchor="end">4</text>
<line x1="531.10" y1="1311.58" x2="537.20" y2="1311.58" stroke="#000" stroke-width="1.5" stroke-linecap="butt"/>
<text class="b" transform="translate(530.20,1316.67) scale(1,1.12)" x="0" y="0" font-family="Liberation Sans" font-size="13.7" font-weight="bold" text-anchor="end">3</text>
<line x1="531.10" y1="1329.32" x2="537.20" y2="1329.32" stroke="#000" stroke-width="1.5" stroke-linecap="butt"/>
<text class="b" transform="translate(530.20,1334.41) scale(1,1.12)" x="0" y="0" font-family="Liberation Sans" font-size="13.7" font-weight="bold" text-anchor="end">2</text>
<line x1="531.10" y1="1347.06" x2="537.20" y2="1347.06" stroke="#000" stroke-width="1.5" stroke-linecap="butt"/>
<text class="b" transform="translate(530.20,1352.15) scale(1,1.12)" x="0" y="0" font-family="Liberation Sans" font-size="13.7" font-weight="bold" text-anchor="end">1</text>
<line x1="531.10" y1="1364.80" x2="537.20" y2="1364.80" stroke="#000" stroke-width="1.5" stroke-linecap="butt"/>
<text class="b" transform="translate(530.20,1369.89) scale(1,1.12)" x="0" y="0" font-family="Liberation Sans" font-size="13.7" font-weight="bold" text-anchor="end">0</text>
<line x1="531.10" y1="1276.10" x2="541.40" y2="1276.10" stroke="#000" stroke-width="1.5" stroke-linecap="butt"/>
<line x1="531.10" y1="1364.90" x2="876.60" y2="1364.90" stroke="#000" stroke-width="2.2" stroke-linecap="butt"/>
<line x1="579.30" y1="1364.90" x2="579.30" y2="1371.20" stroke="#000" stroke-width="1.5" stroke-linecap="butt"/>
<text class="b" x="581.00" y="1386.50" font-family="Liberation Sans" font-size="13" font-weight="bold" text-anchor="middle" >Ctl</text>
<line x1="663.80" y1="1364.90" x2="663.80" y2="1371.20" stroke="#000" stroke-width="1.5" stroke-linecap="butt"/>
<text class="b" x="664.70" y="1386.50" font-family="Liberation Sans" font-size="13" font-weight="bold" text-anchor="middle" >CSE</text>
<line x1="748.40" y1="1364.90" x2="748.40" y2="1371.20" stroke="#000" stroke-width="1.5" stroke-linecap="butt"/>
<text class="b" x="748.60" y="1386.50" font-family="Liberation Sans" font-size="13" font-weight="bold" text-anchor="middle" >LPS</text>
<line x1="833.20" y1="1364.90" x2="833.20" y2="1371.20" stroke="#000" stroke-width="1.5" stroke-linecap="butt"/>
<text class="b" x="834.00" y="1386.50" font-family="Liberation Sans" font-size="13" font-weight="bold" text-anchor="middle" >CSE</text>
<text class="b" x="834.00" y="1401.00" font-family="Liberation Sans" font-size="13" font-weight="bold" text-anchor="middle" >+ LPS</text>
<text class="b" transform="translate(490.00,1269.40) rotate(-90)" x="0" y="0" font-family="Liberation Sans" font-size="13" font-weight="bold" text-anchor="middle" textLength="131.0" lengthAdjust="spacing">mRNA Gro-α/GAPDH</text>
<text class="b" transform="translate(506.50,1269.30) rotate(-90)" x="0" y="0" font-family="Liberation Sans" font-size="13" font-weight="bold" text-anchor="middle" textLength="86.5" lengthAdjust="spacing">(fold change)</text>
<line x1="743.30" y1="1111.70" x2="838.40" y2="1111.70" stroke="#000" stroke-width="1" stroke-linecap="butt"/>
<text x="793.00" y="1109.10" font-family="Liberation Sans" font-size="16.5" font-weight="normal" text-anchor="middle" stroke="#000" stroke-width="0.5">#</text>
<line x1="667.50" y1="1129.10" x2="838.40" y2="1129.10" stroke="#000" stroke-width="1" stroke-linecap="butt"/>
<text transform="translate(758.20,1127.30) scale(1.2,1)" x="0" y="0" font-family="Liberation Serif" font-size="17" text-anchor="middle" stroke="#000" stroke-width="0.15">α</text>
<line x1="578.60" y1="1146.20" x2="838.40" y2="1146.20" stroke="#000" stroke-width="1" stroke-linecap="butt"/>
<text class="b" x="714.20" y="1147.30" font-family="Liberation Sans" font-size="14.5" font-weight="bold" text-anchor="middle" >*</text>
<line x1="578.60" y1="1177.50" x2="746.60" y2="1177.50" stroke="#000" stroke-width="1" stroke-linecap="butt"/>
<text class="b" x="662.70" y="1177.60" font-family="Liberation Sans" font-size="14.5" font-weight="bold" text-anchor="middle" >*</text>
<circle cx="567.80" cy="1347.00" r="3.5" fill="#fff" fill-opacity="0" stroke="#000" stroke-width="1.2"/>
<circle cx="579.10" cy="1349.00" r="3.5" fill="#fff" fill-opacity="0" stroke="#000" stroke-width="1.2"/>
<circle cx="590.40" cy="1349.00" r="3.5" fill="#fff" fill-opacity="0" stroke="#000" stroke-width="1.2"/>
<circle cx="601.90" cy="1347.00" r="3.5" fill="#fff" fill-opacity="0" stroke="#000" stroke-width="1.2"/>
<line x1="550.30" y1="1347.80" x2="608.20" y2="1347.80" stroke="#000" stroke-width="2.5" stroke-linecap="butt"/>
<line x1="649.20" y1="1261.00" x2="678.10" y2="1261.00" stroke="#000" stroke-width="1" stroke-linecap="butt"/>
<line x1="649.20" y1="1323.60" x2="678.10" y2="1323.60" stroke="#000" stroke-width="1" stroke-linecap="butt"/>
<line x1="663.65" y1="1275.20" x2="663.65" y2="1323.60" stroke="#000" stroke-width="1" stroke-linecap="butt"/>
<circle cx="652.10" cy="1261.00" r="4.1" fill="#000"/>
<circle cx="663.70" cy="1261.00" r="4.1" fill="#000"/>
<circle cx="675.20" cy="1338.10" r="4.1" fill="#000"/>
<circle cx="663.70" cy="1344.60" r="4.1" fill="#000"/>
<line x1="634.40" y1="1299.40" x2="692.60" y2="1299.40" stroke="#000" stroke-width="2.5" stroke-linecap="butt"/>
<line x1="734.20" y1="1197.60" x2="762.80" y2="1197.60" stroke="#000" stroke-width="1" stroke-linecap="butt"/>
<line x1="734.20" y1="1219.10" x2="762.80" y2="1219.10" stroke="#000" stroke-width="1" stroke-linecap="butt"/>
<line x1="748.50" y1="1197.60" x2="748.50" y2="1219.10" stroke="#000" stroke-width="1" stroke-linecap="butt"/>
<rect x="733.30" y="1180.90" width="7.2" height="7.2" fill="none" stroke="#222" stroke-width="1.1"/>
<rect x="744.60" y="1192.20" width="7.2" height="7.2" fill="none" stroke="#222" stroke-width="1.1"/>
<rect x="744.60" y="1223.00" width="7.2" height="7.2" fill="none" stroke="#222" stroke-width="1.1"/>
<rect x="756.10" y="1223.00" width="7.2" height="7.2" fill="none" stroke="#222" stroke-width="1.1"/>
<line x1="719.60" y1="1208.30" x2="777.30" y2="1208.30" stroke="#000" stroke-width="2.5" stroke-linecap="butt"/>
<line x1="819.10" y1="1221.90" x2="847.50" y2="1221.90" stroke="#000" stroke-width="1" stroke-linecap="butt"/>
<line x1="819.10" y1="1235.40" x2="847.50" y2="1235.40" stroke="#000" stroke-width="1" stroke-linecap="butt"/>
<line x1="833.30" y1="1221.90" x2="833.30" y2="1235.40" stroke="#000" stroke-width="1" stroke-linecap="butt"/>
<rect x="818.00" y="1213.20" width="7.8" height="7.8" fill="#000"/>
<rect x="829.50" y="1213.20" width="7.8" height="7.8" fill="#000"/>
<rect x="829.50" y="1237.80" width="7.8" height="7.8" fill="#000"/>
<rect x="840.80" y="1235.30" width="7.8" height="7.8" fill="#000"/>
<line x1="804.60" y1="1228.40" x2="862.30" y2="1228.40" stroke="#000" stroke-width="2.5" stroke-linecap="butt"/>
<text transform="translate(484.30,1451.30) scale(1.06,1)" x="0" y="0" font-family="Liberation Sans" font-size="33" stroke="#000" stroke-width="0.35">j</text>
<line x1="537.00" y1="1485.90" x2="537.00" y2="1678.30" stroke="#000" stroke-width="2.2" stroke-linecap="butt"/>
<line x1="530.90" y1="1487.00" x2="537.00" y2="1487.00" stroke="#000" stroke-width="1.5" stroke-linecap="butt"/>
<text class="b" transform="translate(530.00,1492.01) scale(1,1.12)" x="0" y="0" font-family="Liberation Sans" font-size="13.5" font-weight="bold" text-anchor="end">20</text>
<line x1="530.90" y1="1534.83" x2="537.00" y2="1534.83" stroke="#000" stroke-width="1.5" stroke-linecap="butt"/>
<text class="b" transform="translate(530.00,1539.84) scale(1,1.12)" x="0" y="0" font-family="Liberation Sans" font-size="13.5" font-weight="bold" text-anchor="end">15</text>
<line x1="530.90" y1="1582.66" x2="537.00" y2="1582.66" stroke="#000" stroke-width="1.5" stroke-linecap="butt"/>
<text class="b" transform="translate(530.00,1587.67) scale(1,1.12)" x="0" y="0" font-family="Liberation Sans" font-size="13.5" font-weight="bold" text-anchor="end">10</text>
<line x1="530.90" y1="1630.49" x2="537.00" y2="1630.49" stroke="#000" stroke-width="1.5" stroke-linecap="butt"/>
<text class="b" transform="translate(530.00,1635.50) scale(1,1.12)" x="0" y="0" font-family="Liberation Sans" font-size="13.5" font-weight="bold" text-anchor="end">5</text>
<line x1="530.90" y1="1678.32" x2="537.00" y2="1678.32" stroke="#000" stroke-width="1.5" stroke-linecap="butt"/>
<text class="b" transform="translate(530.00,1683.33) scale(1,1.12)" x="0" y="0" font-family="Liberation Sans" font-size="13.5" font-weight="bold" text-anchor="end">0</text>
<line x1="530.90" y1="1678.00" x2="858.00" y2="1678.00" stroke="#000" stroke-width="2.2" stroke-linecap="butt"/>
<line x1="577.00" y1="1678.00" x2="577.00" y2="1684.30" stroke="#000" stroke-width="1.5" stroke-linecap="butt"/>
<text class="b" x="572.90" y="1700.60" font-family="Liberation Sans" font-size="13" font-weight="bold" text-anchor="middle" >Ctl</text>
<line x1="657.00" y1="1678.00" x2="657.00" y2="1684.30" stroke="#000" stroke-width="1.5" stroke-linecap="butt"/>
<text class="b" x="657.90" y="1700.60" font-family="Liberation Sans" font-size="13" font-weight="bold" text-anchor="middle" >CSE</text>
<line x1="736.70" y1="1678.00" x2="736.70" y2="1684.30" stroke="#000" stroke-width="1.5" stroke-linecap="butt"/>
<text class="b" x="737.40" y="1700.60" font-family="Liberation Sans" font-size="13" font-weight="bold" text-anchor="middle" >LPS</text>
<line x1="816.90" y1="1678.00" x2="816.90" y2="1684.30" stroke="#000" stroke-width="1.5" stroke-linecap="butt"/>
<text class="b" x="817.90" y="1700.60" font-family="Liberation Sans" font-size="13" font-weight="bold" text-anchor="middle" >CSE</text>
<text class="b" x="817.90" y="1715.10" font-family="Liberation Sans" font-size="13" font-weight="bold" text-anchor="middle" >+ LPS</text>
<text class="b" transform="translate(490.00,1583.90) rotate(-90)" x="0" y="0" font-family="Liberation Sans" font-size="13" font-weight="bold" text-anchor="middle" textLength="133.0" lengthAdjust="spacing">mRNA MCP-1/GAPDH</text>
<text class="b" transform="translate(506.50,1583.30) rotate(-90)" x="0" y="0" font-family="Liberation Sans" font-size="13" font-weight="bold" text-anchor="middle" textLength="86.6" lengthAdjust="spacing">(fold change)</text>
<line x1="730.20" y1="1481.40" x2="819.60" y2="1481.40" stroke="#000" stroke-width="1" stroke-linecap="butt"/>
<text x="777.50" y="1477.10" font-family="Liberation Sans" font-size="16.5" font-weight="normal" text-anchor="middle" stroke="#000" stroke-width="0.5">#</text>
<line x1="663.00" y1="1498.60" x2="819.60" y2="1498.60" stroke="#000" stroke-width="1" stroke-linecap="butt"/>
<text transform="translate(744.00,1496.80) scale(1.2,1)" x="0" y="0" font-family="Liberation Serif" font-size="17" text-anchor="middle" stroke="#000" stroke-width="0.15">α</text>
<line x1="577.00" y1="1515.40" x2="819.60" y2="1515.40" stroke="#000" stroke-width="1" stroke-linecap="butt"/>
<text class="b" x="700.90" y="1517.10" font-family="Liberation Sans" font-size="14.5" font-weight="bold" text-anchor="middle" >*</text>
<line x1="573.10" y1="1590.50" x2="727.70" y2="1590.50" stroke="#000" stroke-width="1" stroke-linecap="butt"/>
<text class="b" x="644.00" y="1591.50" font-family="Liberation Sans" font-size="14.5" font-weight="bold" text-anchor="middle" >*</text>
<line x1="574.70" y1="1619.90" x2="658.20" y2="1619.90" stroke="#000" stroke-width="1" stroke-linecap="butt"/>
<text class="b" x="618.40" y="1622.40" font-family="Liberation Sans" font-size="14.5" font-weight="bold" text-anchor="middle" >*</text>
<circle cx="565.30" cy="1669.70" r="3.5" fill="#fff" fill-opacity="0" stroke="#000" stroke-width="1.2"/>
<circle cx="577.00" cy="1670.30" r="3.5" fill="#fff" fill-opacity="0" stroke="#000" stroke-width="1.2"/>
<circle cx="588.30" cy="1670.30" r="3.5" fill="#fff" fill-opacity="0" stroke="#000" stroke-width="1.2"/>
<circle cx="599.70" cy="1669.00" r="3.5" fill="#fff" fill-opacity="0" stroke="#000" stroke-width="1.2"/>
<line x1="549.70" y1="1669.70" x2="603.70" y2="1669.70" stroke="#000" stroke-width="1.9" stroke-linecap="butt"/>
<line x1="643.70" y1="1636.00" x2="669.70" y2="1636.00" stroke="#000" stroke-width="1" stroke-linecap="butt"/>
<line x1="643.70" y1="1643.70" x2="669.70" y2="1643.70" stroke="#000" stroke-width="1" stroke-linecap="butt"/>
<line x1="656.70" y1="1636.00" x2="656.70" y2="1643.70" stroke="#000" stroke-width="1" stroke-linecap="butt"/>
<circle cx="656.70" cy="1628.70" r="4.1" fill="#000"/>
<circle cx="645.70" cy="1639.70" r="4.1" fill="#000"/>
<circle cx="656.70" cy="1646.00" r="4.1" fill="#000"/>
<circle cx="668.00" cy="1646.00" r="4.1" fill="#000"/>
<line x1="629.70" y1="1639.70" x2="683.80" y2="1639.70" stroke="#000" stroke-width="1.9" stroke-linecap="butt"/>
<line x1="723.00" y1="1642.80" x2="750.00" y2="1642.80" stroke="#000" stroke-width="1" stroke-linecap="butt"/>
<line x1="723.00" y1="1645.80" x2="750.00" y2="1645.80" stroke="#000" stroke-width="1" stroke-linecap="butt"/>
<line x1="736.50" y1="1642.80" x2="736.50" y2="1645.80" stroke="#000" stroke-width="1" stroke-linecap="butt"/>
<rect x="721.50" y="1638.20" width="7.2" height="7.2" fill="none" stroke="#222" stroke-width="1.1"/>
<rect x="732.80" y="1643.20" width="7.2" height="7.2" fill="none" stroke="#222" stroke-width="1.1"/>
<rect x="744.30" y="1642.70" width="7.2" height="7.2" fill="none" stroke="#222" stroke-width="1.1"/>
<rect x="755.90" y="1638.00" width="7.2" height="7.2" fill="none" stroke="#222" stroke-width="1.1"/>
<line x1="709.60" y1="1644.30" x2="764.20" y2="1644.30" stroke="#000" stroke-width="1.9" stroke-linecap="butt"/>
<line x1="803.30" y1="1551.30" x2="829.90" y2="1551.30" stroke="#000" stroke-width="1" stroke-linecap="butt"/>
<line x1="803.30" y1="1615.20" x2="829.90" y2="1615.20" stroke="#000" stroke-width="1" stroke-linecap="butt"/>
<line x1="816.60" y1="1551.30" x2="816.60" y2="1615.20" stroke="#000" stroke-width="1" stroke-linecap="butt"/>
<rect x="801.40" y="1523.90" width="7.8" height="7.8" fill="#000"/>
<rect x="813.00" y="1524.60" width="7.8" height="7.8" fill="#000"/>
<rect x="813.00" y="1635.40" width="7.8" height="7.8" fill="#000"/>
<rect x="824.20" y="1635.40" width="7.8" height="7.8" fill="#000"/>
<line x1="789.30" y1="1583.40" x2="844.20" y2="1583.40" stroke="#000" stroke-width="1.9" stroke-linecap="butt"/>
</svg>
</body></html>
